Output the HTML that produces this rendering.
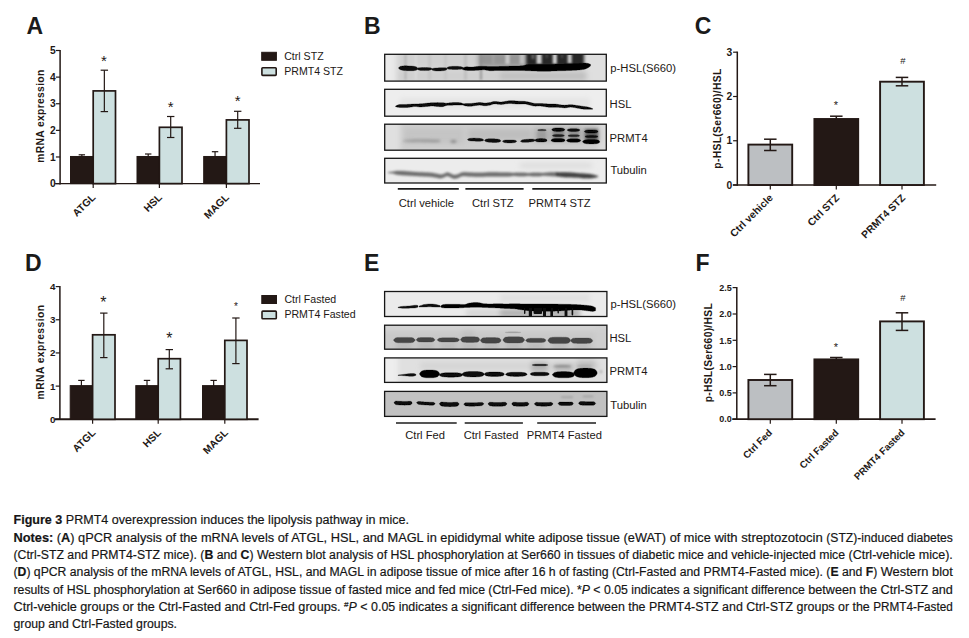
<!DOCTYPE html>
<html><head><meta charset="utf-8"><title>Figure 3</title>
<style>html,body{margin:0;padding:0;background:#fff;}body{width:969px;height:638px;overflow:hidden;}svg{display:block;font-family:'Liberation Sans',sans-serif;}</style>
</head><body>
<svg width="969" height="638" viewBox="0 0 969 638">
<defs>
<filter id="b0" x="-5%" y="-50%" width="110%" height="200%"><feGaussianBlur stdDeviation="0.45"/></filter>
<filter id="b1" x="-20%" y="-100%" width="140%" height="300%"><feGaussianBlur stdDeviation="0.8"/></filter>
<filter id="b05" x="-20%" y="-100%" width="140%" height="300%"><feGaussianBlur stdDeviation="0.6"/></filter>
<filter id="b2" x="-20%" y="-100%" width="140%" height="300%"><feGaussianBlur stdDeviation="1.4"/></filter>
<filter id="b3" x="-20%" y="-100%" width="140%" height="300%"><feGaussianBlur stdDeviation="2.5"/></filter>
</defs>
<rect width="969" height="638" fill="#fff"/>
<text x="26.50" y="34.20" font-size="23" font-weight="bold" text-anchor="start" fill="#1a1a1a">A</text>
<text x="364.00" y="34.20" font-size="23" font-weight="bold" text-anchor="start" fill="#1a1a1a">B</text>
<text x="694.80" y="34.20" font-size="23" font-weight="bold" text-anchor="start" fill="#1a1a1a">C</text>
<text x="25.00" y="271.00" font-size="23" font-weight="bold" text-anchor="start" fill="#1a1a1a">D</text>
<text x="364.00" y="271.00" font-size="23" font-weight="bold" text-anchor="start" fill="#1a1a1a">E</text>
<text x="695.50" y="271.00" font-size="23" font-weight="bold" text-anchor="start" fill="#1a1a1a">F</text>
<line x1="60.10" y1="49.90" x2="60.10" y2="184.40" stroke="#231815" stroke-width="1.5" stroke-linecap="butt"/>
<line x1="55.10" y1="183.60" x2="260.00" y2="183.60" stroke="#231815" stroke-width="1.4" stroke-linecap="butt"/>
<line x1="55.90" y1="183.60" x2="60.10" y2="183.60" stroke="#231815" stroke-width="1.2" stroke-linecap="butt"/>
<text x="55.70" y="187.30" font-size="10.3" font-weight="bold" text-anchor="end" fill="#231815">0</text>
<line x1="55.90" y1="156.98" x2="60.10" y2="156.98" stroke="#231815" stroke-width="1.2" stroke-linecap="butt"/>
<text x="55.70" y="160.68" font-size="10.3" font-weight="bold" text-anchor="end" fill="#231815">1</text>
<line x1="55.90" y1="130.36" x2="60.10" y2="130.36" stroke="#231815" stroke-width="1.2" stroke-linecap="butt"/>
<text x="55.70" y="134.06" font-size="10.3" font-weight="bold" text-anchor="end" fill="#231815">2</text>
<line x1="55.90" y1="103.74" x2="60.10" y2="103.74" stroke="#231815" stroke-width="1.2" stroke-linecap="butt"/>
<text x="55.70" y="107.44" font-size="10.3" font-weight="bold" text-anchor="end" fill="#231815">3</text>
<line x1="55.90" y1="77.12" x2="60.10" y2="77.12" stroke="#231815" stroke-width="1.2" stroke-linecap="butt"/>
<text x="55.70" y="80.82" font-size="10.3" font-weight="bold" text-anchor="end" fill="#231815">4</text>
<line x1="55.90" y1="50.50" x2="60.10" y2="50.50" stroke="#231815" stroke-width="1.2" stroke-linecap="butt"/>
<text x="55.70" y="54.20" font-size="10.3" font-weight="bold" text-anchor="end" fill="#231815">5</text>
<line x1="81.85" y1="154.80" x2="81.85" y2="157.98" stroke="#231815" stroke-width="1.2" stroke-linecap="butt"/>
<line x1="78.65" y1="154.80" x2="85.05" y2="154.80" stroke="#231815" stroke-width="1.2" stroke-linecap="butt"/>
<rect x="70.50" y="156.48" width="22.70" height="27.12" fill="#231815" stroke="#231815" stroke-width="1.0"/>
<rect x="93.20" y="90.90" width="22.30" height="92.70" fill="#cde0e0" stroke="#231815" stroke-width="1.7"/>
<line x1="104.35" y1="70.20" x2="104.35" y2="111.60" stroke="#231815" stroke-width="1.2" stroke-linecap="butt"/>
<line x1="100.65" y1="70.20" x2="108.05" y2="70.20" stroke="#231815" stroke-width="1.2" stroke-linecap="butt"/>
<line x1="100.65" y1="111.60" x2="108.05" y2="111.60" stroke="#231815" stroke-width="1.2" stroke-linecap="butt"/>
<text x="104.00" y="66.00" font-size="15" text-anchor="middle" fill="#231815">*</text>
<line x1="93.20" y1="183.60" x2="93.20" y2="188.10" stroke="#231815" stroke-width="1.2" stroke-linecap="butt"/>
<text x="96.10" y="198.00" font-size="10.3" font-weight="bold" text-anchor="end" fill="#231815" transform="rotate(-45 96.10 198.00)">ATGL</text>
<line x1="148.20" y1="154.00" x2="148.20" y2="157.98" stroke="#231815" stroke-width="1.2" stroke-linecap="butt"/>
<line x1="145.00" y1="154.00" x2="151.40" y2="154.00" stroke="#231815" stroke-width="1.2" stroke-linecap="butt"/>
<rect x="137.00" y="156.48" width="22.40" height="27.12" fill="#231815" stroke="#231815" stroke-width="1.0"/>
<rect x="159.40" y="127.30" width="22.60" height="56.30" fill="#cde0e0" stroke="#231815" stroke-width="1.7"/>
<line x1="170.70" y1="116.50" x2="170.70" y2="137.50" stroke="#231815" stroke-width="1.2" stroke-linecap="butt"/>
<line x1="167.00" y1="116.50" x2="174.40" y2="116.50" stroke="#231815" stroke-width="1.2" stroke-linecap="butt"/>
<line x1="167.00" y1="137.50" x2="174.40" y2="137.50" stroke="#231815" stroke-width="1.2" stroke-linecap="butt"/>
<text x="170.60" y="111.70" font-size="15" text-anchor="middle" fill="#231815">*</text>
<line x1="159.40" y1="183.60" x2="159.40" y2="188.10" stroke="#231815" stroke-width="1.2" stroke-linecap="butt"/>
<text x="162.60" y="198.00" font-size="10.3" font-weight="bold" text-anchor="end" fill="#231815" transform="rotate(-45 162.60 198.00)">HSL</text>
<line x1="215.05" y1="151.70" x2="215.05" y2="157.98" stroke="#231815" stroke-width="1.2" stroke-linecap="butt"/>
<line x1="211.85" y1="151.70" x2="218.25" y2="151.70" stroke="#231815" stroke-width="1.2" stroke-linecap="butt"/>
<rect x="203.70" y="156.48" width="22.70" height="27.12" fill="#231815" stroke="#231815" stroke-width="1.0"/>
<rect x="226.40" y="119.90" width="22.60" height="63.70" fill="#cde0e0" stroke="#231815" stroke-width="1.7"/>
<line x1="237.70" y1="111.30" x2="237.70" y2="128.30" stroke="#231815" stroke-width="1.2" stroke-linecap="butt"/>
<line x1="234.00" y1="111.30" x2="241.40" y2="111.30" stroke="#231815" stroke-width="1.2" stroke-linecap="butt"/>
<line x1="234.00" y1="128.30" x2="241.40" y2="128.30" stroke="#231815" stroke-width="1.2" stroke-linecap="butt"/>
<text x="237.60" y="106.20" font-size="15" text-anchor="middle" fill="#231815">*</text>
<line x1="226.40" y1="183.60" x2="226.40" y2="188.10" stroke="#231815" stroke-width="1.2" stroke-linecap="butt"/>
<text x="229.60" y="198.00" font-size="10.3" font-weight="bold" text-anchor="end" fill="#231815" transform="rotate(-45 229.60 198.00)">MAGL</text>
<text x="44.40" y="116.20" font-size="10.3" font-weight="bold" text-anchor="middle" fill="#231815" transform="rotate(-90 44.40 116.20)" textLength="93" lengthAdjust="spacing">mRNA expression</text>
<rect x="261.7" y="52.3" width="14.7" height="8.0" fill="#231815" stroke="#231815" stroke-width="1"/>
<rect x="261.9" y="67.8" width="14.299999999999999" height="7.6" fill="#cde0e0" stroke="#231815" stroke-width="1.6" rx="0.8"/>
<text x="284.20" y="59.80" font-size="10.6" text-anchor="start" fill="#231815">Ctrl STZ</text>
<text x="284.20" y="74.80" font-size="10.6" text-anchor="start" fill="#231815">PRMT4 STZ</text>
<line x1="59.90" y1="285.98" x2="59.90" y2="420.10" stroke="#231815" stroke-width="1.5" stroke-linecap="butt"/>
<line x1="54.90" y1="419.30" x2="258.60" y2="419.30" stroke="#231815" stroke-width="1.9" stroke-linecap="butt"/>
<line x1="55.70" y1="419.30" x2="59.90" y2="419.30" stroke="#231815" stroke-width="1.2" stroke-linecap="butt"/>
<text x="55.50" y="422.82" font-size="9.8" font-weight="bold" text-anchor="end" fill="#231815">0</text>
<line x1="55.70" y1="386.12" x2="59.90" y2="386.12" stroke="#231815" stroke-width="1.2" stroke-linecap="butt"/>
<text x="55.50" y="389.64" font-size="9.8" font-weight="bold" text-anchor="end" fill="#231815">1</text>
<line x1="55.70" y1="352.94" x2="59.90" y2="352.94" stroke="#231815" stroke-width="1.2" stroke-linecap="butt"/>
<text x="55.50" y="356.46" font-size="9.8" font-weight="bold" text-anchor="end" fill="#231815">2</text>
<line x1="55.70" y1="319.76" x2="59.90" y2="319.76" stroke="#231815" stroke-width="1.2" stroke-linecap="butt"/>
<text x="55.50" y="323.28" font-size="9.8" font-weight="bold" text-anchor="end" fill="#231815">3</text>
<line x1="55.70" y1="286.58" x2="59.90" y2="286.58" stroke="#231815" stroke-width="1.2" stroke-linecap="butt"/>
<text x="55.50" y="290.10" font-size="9.8" font-weight="bold" text-anchor="end" fill="#231815">4</text>
<line x1="81.40" y1="380.40" x2="81.40" y2="387.12" stroke="#231815" stroke-width="1.2" stroke-linecap="butt"/>
<line x1="78.20" y1="380.40" x2="84.60" y2="380.40" stroke="#231815" stroke-width="1.2" stroke-linecap="butt"/>
<rect x="70.20" y="385.62" width="22.40" height="33.68" fill="#231815" stroke="#231815" stroke-width="1.0"/>
<rect x="92.60" y="334.80" width="22.40" height="84.50" fill="#cde0e0" stroke="#231815" stroke-width="1.7"/>
<line x1="103.80" y1="313.10" x2="103.80" y2="357.60" stroke="#231815" stroke-width="1.2" stroke-linecap="butt"/>
<line x1="100.10" y1="313.10" x2="107.50" y2="313.10" stroke="#231815" stroke-width="1.2" stroke-linecap="butt"/>
<line x1="100.10" y1="357.60" x2="107.50" y2="357.60" stroke="#231815" stroke-width="1.2" stroke-linecap="butt"/>
<text x="103.40" y="308.30" font-size="16" text-anchor="middle" fill="#231815">*</text>
<line x1="92.60" y1="419.30" x2="92.60" y2="423.80" stroke="#231815" stroke-width="1.2" stroke-linecap="butt"/>
<text x="96.10" y="433.40" font-size="10.3" font-weight="bold" text-anchor="end" fill="#231815" transform="rotate(-45 96.10 433.40)">ATGL</text>
<line x1="147.00" y1="380.40" x2="147.00" y2="387.12" stroke="#231815" stroke-width="1.2" stroke-linecap="butt"/>
<line x1="143.80" y1="380.40" x2="150.20" y2="380.40" stroke="#231815" stroke-width="1.2" stroke-linecap="butt"/>
<rect x="135.80" y="385.62" width="22.40" height="33.68" fill="#231815" stroke="#231815" stroke-width="1.0"/>
<rect x="158.20" y="358.70" width="22.20" height="60.60" fill="#cde0e0" stroke="#231815" stroke-width="1.7"/>
<line x1="169.30" y1="349.60" x2="169.30" y2="368.80" stroke="#231815" stroke-width="1.2" stroke-linecap="butt"/>
<line x1="165.60" y1="349.60" x2="173.00" y2="349.60" stroke="#231815" stroke-width="1.2" stroke-linecap="butt"/>
<line x1="165.60" y1="368.80" x2="173.00" y2="368.80" stroke="#231815" stroke-width="1.2" stroke-linecap="butt"/>
<text x="169.40" y="343.50" font-size="16" text-anchor="middle" fill="#231815">*</text>
<line x1="158.20" y1="419.30" x2="158.20" y2="423.80" stroke="#231815" stroke-width="1.2" stroke-linecap="butt"/>
<text x="161.60" y="433.40" font-size="10.3" font-weight="bold" text-anchor="end" fill="#231815" transform="rotate(-45 161.60 433.40)">HSL</text>
<line x1="213.65" y1="380.40" x2="213.65" y2="387.12" stroke="#231815" stroke-width="1.2" stroke-linecap="butt"/>
<line x1="210.45" y1="380.40" x2="216.85" y2="380.40" stroke="#231815" stroke-width="1.2" stroke-linecap="butt"/>
<rect x="202.50" y="385.62" width="22.30" height="33.68" fill="#231815" stroke="#231815" stroke-width="1.0"/>
<rect x="224.80" y="340.40" width="22.20" height="78.90" fill="#cde0e0" stroke="#231815" stroke-width="1.7"/>
<line x1="235.90" y1="318.00" x2="235.90" y2="363.60" stroke="#231815" stroke-width="1.2" stroke-linecap="butt"/>
<line x1="232.20" y1="318.00" x2="239.60" y2="318.00" stroke="#231815" stroke-width="1.2" stroke-linecap="butt"/>
<line x1="232.20" y1="363.60" x2="239.60" y2="363.60" stroke="#231815" stroke-width="1.2" stroke-linecap="butt"/>
<text x="236.00" y="309.50" font-size="10" text-anchor="middle" fill="#231815">*</text>
<line x1="224.80" y1="419.30" x2="224.80" y2="423.80" stroke="#231815" stroke-width="1.2" stroke-linecap="butt"/>
<text x="228.60" y="433.40" font-size="10.3" font-weight="bold" text-anchor="end" fill="#231815" transform="rotate(-45 228.60 433.40)">MAGL</text>
<text x="44.20" y="352.20" font-size="10.3" font-weight="bold" text-anchor="middle" fill="#231815" transform="rotate(-90 44.20 352.20)" textLength="94.5" lengthAdjust="spacing">mRNA expression</text>
<rect x="261.8" y="295.5" width="14.7" height="8.0" fill="#231815" stroke="#231815" stroke-width="1"/>
<rect x="262.0" y="311.09999999999997" width="14.299999999999999" height="7.6" fill="#cde0e0" stroke="#231815" stroke-width="1.6" rx="0.8"/>
<text x="284.40" y="302.80" font-size="10.6" text-anchor="start" fill="#231815">Ctrl Fasted</text>
<text x="284.40" y="318.00" font-size="10.6" text-anchor="start" fill="#231815">PRMT4 Fasted</text>
<line x1="737.30" y1="51.60" x2="737.30" y2="185.80" stroke="#231815" stroke-width="1.5" stroke-linecap="butt"/>
<line x1="732.80" y1="185.00" x2="936.20" y2="185.00" stroke="#231815" stroke-width="1.7" stroke-linecap="butt"/>
<line x1="733.10" y1="185.00" x2="737.30" y2="185.00" stroke="#231815" stroke-width="1.2" stroke-linecap="butt"/>
<text x="732.30" y="188.70" font-size="10.3" font-weight="bold" text-anchor="end" fill="#231815">0</text>
<line x1="733.10" y1="140.75" x2="737.30" y2="140.75" stroke="#231815" stroke-width="1.2" stroke-linecap="butt"/>
<text x="732.30" y="144.45" font-size="10.3" font-weight="bold" text-anchor="end" fill="#231815">1</text>
<line x1="733.10" y1="96.50" x2="737.30" y2="96.50" stroke="#231815" stroke-width="1.2" stroke-linecap="butt"/>
<text x="732.30" y="100.20" font-size="10.3" font-weight="bold" text-anchor="end" fill="#231815">2</text>
<line x1="733.10" y1="52.20" x2="737.30" y2="52.20" stroke="#231815" stroke-width="1.2" stroke-linecap="butt"/>
<text x="732.30" y="55.90" font-size="10.3" font-weight="bold" text-anchor="end" fill="#231815">3</text>
<rect x="748.40" y="144.60" width="43.80" height="40.40" fill="#bcbfc2" stroke="#231815" stroke-width="1.9"/>
<line x1="770.30" y1="139.20" x2="770.30" y2="150.50" stroke="#231815" stroke-width="1.5" stroke-linecap="butt"/>
<line x1="764.05" y1="139.20" x2="776.55" y2="139.20" stroke="#231815" stroke-width="1.5" stroke-linecap="butt"/>
<line x1="764.05" y1="150.50" x2="776.55" y2="150.50" stroke="#231815" stroke-width="1.5" stroke-linecap="butt"/>
<line x1="770.30" y1="185.00" x2="770.30" y2="189.50" stroke="#231815" stroke-width="1.2" stroke-linecap="butt"/>
<text x="773.50" y="198.50" font-size="10.3" font-weight="bold" text-anchor="end" fill="#231815" transform="rotate(-45 773.50 198.50)">Ctrl vehicle</text>
<line x1="836.30" y1="116.20" x2="836.30" y2="120.00" stroke="#231815" stroke-width="1.5" stroke-linecap="butt"/>
<line x1="830.05" y1="116.20" x2="842.55" y2="116.20" stroke="#231815" stroke-width="1.5" stroke-linecap="butt"/>
<rect x="814.40" y="119.00" width="43.80" height="66.00" fill="#231815" stroke="#231815" stroke-width="1.9"/>
<line x1="836.30" y1="185.00" x2="836.30" y2="189.50" stroke="#231815" stroke-width="1.2" stroke-linecap="butt"/>
<text x="840.00" y="198.50" font-size="10.3" font-weight="bold" text-anchor="end" fill="#231815" transform="rotate(-45 840.00 198.50)">Ctrl STZ</text>
<rect x="880.10" y="81.70" width="43.80" height="103.30" fill="#cde0e0" stroke="#231815" stroke-width="1.9"/>
<line x1="902.00" y1="77.40" x2="902.00" y2="85.80" stroke="#231815" stroke-width="1.5" stroke-linecap="butt"/>
<line x1="895.75" y1="77.40" x2="908.25" y2="77.40" stroke="#231815" stroke-width="1.5" stroke-linecap="butt"/>
<line x1="895.75" y1="85.80" x2="908.25" y2="85.80" stroke="#231815" stroke-width="1.5" stroke-linecap="butt"/>
<line x1="902.00" y1="185.00" x2="902.00" y2="189.50" stroke="#231815" stroke-width="1.2" stroke-linecap="butt"/>
<text x="906.00" y="198.50" font-size="10.3" font-weight="bold" text-anchor="end" fill="#231815" transform="rotate(-45 906.00 198.50)">PRMT4 STZ</text>
<text x="836.00" y="109.30" font-size="11" text-anchor="middle" fill="#231815">*</text>
<text x="903.00" y="64.40" font-size="9.5" text-anchor="middle" fill="#231815">#</text>
<text x="721.30" y="118.70" font-size="10.3" font-weight="bold" text-anchor="middle" fill="#231815" transform="rotate(-90 721.30 118.70)" textLength="100" lengthAdjust="spacing">p-HSL(Ser660)/HSL</text>
<line x1="736.80" y1="287.00" x2="736.80" y2="420.00" stroke="#231815" stroke-width="1.5" stroke-linecap="butt"/>
<line x1="732.30" y1="419.20" x2="935.60" y2="419.20" stroke="#231815" stroke-width="1.7" stroke-linecap="butt"/>
<line x1="732.60" y1="419.20" x2="736.80" y2="419.20" stroke="#231815" stroke-width="1.2" stroke-linecap="butt"/>
<text x="731.80" y="422.43" font-size="9.0" font-weight="bold" text-anchor="end" fill="#231815">0.0</text>
<line x1="732.60" y1="392.90" x2="736.80" y2="392.90" stroke="#231815" stroke-width="1.2" stroke-linecap="butt"/>
<text x="731.80" y="396.13" font-size="9.0" font-weight="bold" text-anchor="end" fill="#231815">0.5</text>
<line x1="732.60" y1="366.60" x2="736.80" y2="366.60" stroke="#231815" stroke-width="1.2" stroke-linecap="butt"/>
<text x="731.80" y="369.83" font-size="9.0" font-weight="bold" text-anchor="end" fill="#231815">1.0</text>
<line x1="732.60" y1="340.30" x2="736.80" y2="340.30" stroke="#231815" stroke-width="1.2" stroke-linecap="butt"/>
<text x="731.80" y="343.53" font-size="9.0" font-weight="bold" text-anchor="end" fill="#231815">1.5</text>
<line x1="732.60" y1="314.00" x2="736.80" y2="314.00" stroke="#231815" stroke-width="1.2" stroke-linecap="butt"/>
<text x="731.80" y="317.23" font-size="9.0" font-weight="bold" text-anchor="end" fill="#231815">2.0</text>
<line x1="732.60" y1="287.60" x2="736.80" y2="287.60" stroke="#231815" stroke-width="1.2" stroke-linecap="butt"/>
<text x="731.80" y="290.83" font-size="9.0" font-weight="bold" text-anchor="end" fill="#231815">2.5</text>
<rect x="748.40" y="380.00" width="43.80" height="39.20" fill="#bcbfc2" stroke="#231815" stroke-width="1.9"/>
<line x1="770.30" y1="374.40" x2="770.30" y2="385.70" stroke="#231815" stroke-width="1.5" stroke-linecap="butt"/>
<line x1="764.05" y1="374.40" x2="776.55" y2="374.40" stroke="#231815" stroke-width="1.5" stroke-linecap="butt"/>
<line x1="764.05" y1="385.70" x2="776.55" y2="385.70" stroke="#231815" stroke-width="1.5" stroke-linecap="butt"/>
<line x1="770.30" y1="419.20" x2="770.30" y2="423.70" stroke="#231815" stroke-width="1.2" stroke-linecap="butt"/>
<text x="772.80" y="433.40" font-size="9.7" font-weight="bold" text-anchor="end" fill="#231815" transform="rotate(-45 772.80 433.40)">Ctrl Fed</text>
<line x1="836.30" y1="357.50" x2="836.30" y2="360.40" stroke="#231815" stroke-width="1.5" stroke-linecap="butt"/>
<line x1="830.05" y1="357.50" x2="842.55" y2="357.50" stroke="#231815" stroke-width="1.5" stroke-linecap="butt"/>
<rect x="814.40" y="359.40" width="43.80" height="59.80" fill="#231815" stroke="#231815" stroke-width="1.9"/>
<line x1="836.30" y1="419.20" x2="836.30" y2="423.70" stroke="#231815" stroke-width="1.2" stroke-linecap="butt"/>
<text x="839.30" y="433.40" font-size="9.7" font-weight="bold" text-anchor="end" fill="#231815" transform="rotate(-45 839.30 433.40)">Ctrl Fasted</text>
<rect x="880.10" y="321.40" width="43.80" height="97.80" fill="#cde0e0" stroke="#231815" stroke-width="1.9"/>
<line x1="902.00" y1="312.80" x2="902.00" y2="330.40" stroke="#231815" stroke-width="1.5" stroke-linecap="butt"/>
<line x1="895.75" y1="312.80" x2="908.25" y2="312.80" stroke="#231815" stroke-width="1.5" stroke-linecap="butt"/>
<line x1="895.75" y1="330.40" x2="908.25" y2="330.40" stroke="#231815" stroke-width="1.5" stroke-linecap="butt"/>
<line x1="902.00" y1="419.20" x2="902.00" y2="423.70" stroke="#231815" stroke-width="1.2" stroke-linecap="butt"/>
<text x="905.30" y="433.40" font-size="9.7" font-weight="bold" text-anchor="end" fill="#231815" transform="rotate(-45 905.30 433.40)">PRMT4 Fasted</text>
<text x="836.00" y="350.70" font-size="11" text-anchor="middle" fill="#231815">*</text>
<text x="903.00" y="300.80" font-size="9.5" text-anchor="middle" fill="#231815">#</text>
<text x="712.50" y="352.80" font-size="10.3" font-weight="bold" text-anchor="middle" fill="#231815" transform="rotate(-90 712.50 352.80)" textLength="99" lengthAdjust="spacing">p-HSL(Ser660)/HSL</text>
<clipPath id="cp1"><rect x="384.7" y="54.3" width="221.59999999999997" height="26.799999999999997"/></clipPath>
<rect x="384.7" y="54.3" width="221.59999999999997" height="26.799999999999997" fill="#d6d6d6"/>
<g clip-path="url(#cp1)">
<g filter="url(#b3)">
<rect x="380.0" y="50.0" width="16.0" height="36.0" fill="#ececec" opacity="0.9"/>
<rect x="586.0" y="50.0" width="24.0" height="36.0" fill="#e0e0e0" opacity="0.9"/>
<rect x="400.0" y="52.0" width="80.0" height="14.0" fill="#cfcfcf" opacity="0.7"/>
<rect x="478.0" y="52.0" width="48.0" height="15.0" fill="#8e8e8e" opacity="0.9"/>
<rect x="398.0" y="72.0" width="190.0" height="8.0" fill="#cccccc" opacity="0.7"/>
<rect x="500.0" y="72.0" width="86.0" height="8.0" fill="#b8b8b8" opacity="0.7"/>
</g>
<g filter="url(#b2)">
<rect x="526.0" y="52.0" width="58.0" height="14.0" fill="#1c1c1c" opacity="0.95"/>
</g>
<g filter="url(#b1)">
<rect x="505.4" y="53.0" width="4.2" height="11.0" fill="#cfcfcf" opacity="0.9"/>
<rect x="519.7" y="53.0" width="4.6" height="11.0" fill="#c4c4c4" opacity="0.9"/>
<rect x="492.0" y="53.0" width="2.5" height="11.0" fill="#aaaaaa" opacity="0.6"/>
<rect x="536.5" y="53.0" width="5.2" height="11.0" fill="#cdcdcd" opacity="1.0"/>
<rect x="552.7" y="53.0" width="4.2" height="11.0" fill="#d2d2d2" opacity="1.0"/>
<rect x="567.6" y="53.0" width="4.2" height="10.5" fill="#c8c8c8" opacity="1.0"/>
<rect x="531.5" y="53.0" width="2.8" height="6.0" fill="#777777" opacity="0.8"/>
<rect x="545.5" y="53.0" width="2.5" height="5.0" fill="#555555" opacity="0.7"/>
<rect x="561.0" y="53.0" width="2.2" height="5.0" fill="#555555" opacity="0.7"/>
<rect x="404.5" y="54.0" width="2.0" height="26.0" fill="#a8a8a8" opacity="0.7"/>
<rect x="414.5" y="54.0" width="2.5" height="26.0" fill="#e0e0e0" opacity="0.6"/>
<rect x="480.0" y="54.0" width="2.0" height="26.0" fill="#8a8a8a" opacity="0.8"/>
<rect x="464.0" y="54.0" width="3.0" height="26.0" fill="#b4b4b4" opacity="0.6"/>
<rect x="428.0" y="54.0" width="3.0" height="26.0" fill="#c2c2c2" opacity="0.7"/>
<rect x="444.0" y="54.0" width="3.0" height="26.0" fill="#c4c4c4" opacity="0.7"/>
</g>
<g filter="url(#b0)">
<path d="M398.6,67.71 L399.1,67.31 L399.6,66.90 L400.1,66.55 L400.6,66.34 L401.1,66.21 L401.6,66.13 L402.1,66.04 L402.6,65.98 L403.1,65.93 L403.6,65.89 L404.1,65.87 L404.6,65.85 L405.1,65.84 L405.6,65.84 L406.1,65.85 L406.6,65.85 L407.1,65.86 L407.6,65.88 L408.1,65.89 L408.6,65.91 L409.1,65.92 L409.6,65.94 L410.1,65.96 L410.6,65.99 L411.1,66.01 L411.6,66.05 L412.1,66.09 L412.6,66.14 L413.1,66.20 L413.6,66.27 L414.1,66.35 L414.6,66.45 L415.1,66.56 L415.6,66.68 L416.1,66.85 L416.6,67.13 L417.1,67.52 L417.6,67.97 L417.6,69.21 L417.1,69.62 L416.6,69.99 L416.1,70.23 L415.6,70.37 L415.1,70.46 L414.6,70.54 L414.1,70.61 L413.6,70.66 L413.1,70.70 L412.6,70.73 L412.1,70.74 L411.6,70.75 L411.1,70.76 L410.6,70.75 L410.1,70.75 L409.6,70.74 L409.1,70.72 L408.6,70.71 L408.1,70.69 L407.6,70.68 L407.1,70.66 L406.6,70.64 L406.1,70.62 L405.6,70.59 L405.1,70.56 L404.6,70.52 L404.1,70.47 L403.6,70.41 L403.1,70.35 L402.6,70.27 L402.1,70.17 L401.6,70.06 L401.1,69.94 L400.6,69.79 L400.1,69.54 L399.6,69.16 L399.1,68.72 L398.6,68.29Z" fill="#080808" opacity="1.0" stroke="#080808" stroke-width="0.3" stroke-linejoin="round"/>
<path d="M417.0,68.62 L417.5,68.31 L418.0,68.03 L418.5,67.84 L419.0,67.76 L419.5,67.71 L420.0,67.66 L420.5,67.63 L421.0,67.61 L421.5,67.60 L422.0,67.59 L422.5,67.59 L423.0,67.59 L423.5,67.59 L424.0,67.60 L424.5,67.60 L425.0,67.60 L425.5,67.59 L426.0,67.59 L426.5,67.59 L427.0,67.59 L427.5,67.60 L428.0,67.61 L428.5,67.63 L429.0,67.66 L429.5,67.71 L430.0,67.76 L430.5,67.84 L431.0,68.03 L431.5,68.31 L432.0,68.62 L432.0,68.98 L431.5,69.36 L431.0,69.72 L430.5,69.97 L430.0,70.12 L429.5,70.22 L429.0,70.32 L428.5,70.39 L428.0,70.46 L427.5,70.50 L427.0,70.54 L426.5,70.56 L426.0,70.58 L425.5,70.59 L425.0,70.60 L424.5,70.60 L424.0,70.60 L423.5,70.59 L423.0,70.58 L422.5,70.56 L422.0,70.54 L421.5,70.50 L421.0,70.46 L420.5,70.39 L420.0,70.32 L419.5,70.22 L419.0,70.12 L418.5,69.97 L418.0,69.72 L417.5,69.36 L417.0,68.98Z" fill="#0c0c0c" opacity="1.0" stroke="#0c0c0c" stroke-width="0.3" stroke-linejoin="round"/>
<path d="M431.6,69.16 L432.1,68.85 L432.6,68.54 L433.1,68.33 L433.6,68.22 L434.1,68.15 L434.6,68.08 L435.1,68.04 L435.6,68.00 L436.1,67.96 L436.6,67.94 L437.1,67.92 L437.6,67.90 L438.1,67.89 L438.6,67.87 L439.1,67.86 L439.6,67.85 L440.1,67.83 L440.6,67.81 L441.1,67.79 L441.6,67.78 L442.1,67.76 L442.6,67.75 L443.1,67.75 L443.6,67.75 L444.1,67.76 L444.6,67.79 L445.1,67.82 L445.6,67.87 L446.1,67.98 L446.6,68.21 L447.1,68.50 L447.1,69.26 L446.6,69.65 L446.1,69.98 L445.6,70.19 L445.1,70.32 L444.6,70.44 L444.1,70.54 L443.6,70.63 L443.1,70.70 L442.6,70.76 L442.1,70.81 L441.6,70.85 L441.1,70.88 L440.6,70.91 L440.1,70.93 L439.6,70.95 L439.1,70.96 L438.6,70.97 L438.1,70.98 L437.6,70.98 L437.1,70.98 L436.6,70.96 L436.1,70.94 L435.6,70.90 L435.1,70.86 L434.6,70.79 L434.1,70.71 L433.6,70.62 L433.1,70.48 L432.6,70.23 L432.1,69.89 L431.6,69.54Z" fill="#0c0c0c" opacity="1.0" stroke="#0c0c0c" stroke-width="0.3" stroke-linejoin="round"/>
<path d="M446.8,67.85 L447.3,67.51 L447.8,67.17 L448.3,66.92 L448.8,66.77 L449.3,66.67 L449.8,66.58 L450.3,66.51 L450.8,66.45 L451.3,66.40 L451.8,66.37 L452.3,66.34 L452.8,66.32 L453.3,66.30 L453.8,66.29 L454.3,66.29 L454.8,66.28 L455.3,66.28 L455.8,66.29 L456.3,66.29 L456.8,66.30 L457.3,66.31 L457.8,66.33 L458.3,66.36 L458.8,66.39 L459.3,66.44 L459.8,66.50 L460.3,66.56 L460.8,66.65 L461.3,66.75 L461.8,66.88 L462.3,67.11 L462.8,67.44 L463.3,67.78 L463.3,68.28 L462.8,68.58 L462.3,68.86 L461.8,69.05 L461.3,69.15 L460.8,69.20 L460.3,69.26 L459.8,69.30 L459.3,69.33 L458.8,69.35 L458.3,69.37 L457.8,69.38 L457.3,69.38 L456.8,69.39 L456.3,69.39 L455.8,69.39 L455.3,69.38 L454.8,69.38 L454.3,69.39 L453.8,69.39 L453.3,69.39 L452.8,69.38 L452.3,69.38 L451.8,69.37 L451.3,69.35 L450.8,69.33 L450.3,69.29 L449.8,69.25 L449.3,69.19 L448.8,69.13 L448.3,69.02 L447.8,68.81 L447.3,68.52 L446.8,68.22Z" fill="#0c0c0c" opacity="1.0" stroke="#0c0c0c" stroke-width="0.3" stroke-linejoin="round"/>
<path d="M462.5,68.05 L463.5,67.67 L464.5,67.28 L465.5,66.98 L466.5,66.86 L467.5,66.86 L468.5,66.92 L469.5,67.00 L470.5,67.08 L471.5,67.11 L472.5,67.07 L473.5,66.98 L474.5,66.85 L475.5,66.70 L476.5,66.56 L477.5,66.44 L478.5,66.36 L479.5,66.30 L480.5,66.26 L481.5,66.22 L482.5,66.20 L483.5,66.20 L484.5,66.21 L485.5,66.25 L486.5,66.31 L487.5,66.38 L488.5,66.44 L489.5,66.49 L490.5,66.51 L491.5,66.51 L492.5,66.50 L493.5,66.49 L494.5,66.47 L495.5,66.45 L496.5,66.43 L497.5,66.41 L498.5,66.39 L499.5,66.37 L500.5,66.34 L501.5,66.32 L502.5,66.29 L503.5,66.27 L504.5,66.24 L505.5,66.21 L506.5,66.19 L507.5,66.16 L508.5,66.14 L509.5,66.11 L510.5,66.08 L511.5,66.06 L512.5,66.03 L513.5,66.01 L514.5,65.99 L515.5,65.98 L516.5,65.98 L517.5,65.98 L518.5,65.96 L519.5,65.93 L520.5,65.87 L521.5,65.78 L522.5,65.65 L523.5,65.49 L524.5,65.27 L525.5,64.92 L526.5,64.59 L527.5,64.44 L528.5,64.36 L529.5,64.29 L530.5,64.25 L531.5,64.23 L532.5,64.22 L533.5,64.21 L534.5,64.20 L535.5,64.19 L536.5,64.20 L537.5,64.21 L538.5,64.22 L539.5,64.24 L540.5,64.26 L541.5,64.28 L542.5,64.29 L543.5,64.30 L544.5,64.30 L545.5,64.30 L546.5,64.29 L547.5,64.28 L548.5,64.26 L549.5,64.24 L550.5,64.22 L551.5,64.20 L552.5,64.18 L553.5,64.16 L554.5,64.13 L555.5,64.11 L556.5,64.09 L557.5,64.06 L558.5,64.04 L559.5,64.01 L560.5,63.99 L561.5,63.96 L562.5,63.93 L563.5,63.90 L564.5,63.87 L565.5,63.84 L566.5,63.81 L567.5,63.79 L568.5,63.76 L569.5,63.73 L570.5,63.71 L571.5,63.68 L572.5,63.65 L573.5,63.62 L574.5,63.59 L575.5,63.56 L576.5,63.52 L577.5,63.48 L578.5,63.42 L579.5,63.35 L580.5,63.27 L581.5,63.20 L582.5,63.15 L583.5,63.11 L584.5,63.10 L585.5,63.12 L586.5,63.18 L587.5,63.31 L588.5,63.53 L589.5,63.89 L590.5,64.31 L590.5,65.90 L589.5,66.73 L588.5,67.49 L587.5,68.06 L586.5,68.52 L585.5,68.89 L584.5,69.19 L583.5,69.40 L582.5,69.57 L581.5,69.71 L580.5,69.82 L579.5,69.91 L578.5,69.99 L577.5,70.06 L576.5,70.14 L575.5,70.21 L574.5,70.27 L573.5,70.32 L572.5,70.37 L571.5,70.42 L570.5,70.46 L569.5,70.50 L568.5,70.54 L567.5,70.58 L566.5,70.62 L565.5,70.65 L564.5,70.68 L563.5,70.71 L562.5,70.73 L561.5,70.76 L560.5,70.78 L559.5,70.81 L558.5,70.83 L557.5,70.86 L556.5,70.88 L555.5,70.92 L554.5,70.96 L553.5,71.00 L552.5,71.04 L551.5,71.09 L550.5,71.14 L549.5,71.18 L548.5,71.22 L547.5,71.25 L546.5,71.28 L545.5,71.30 L544.5,71.30 L543.5,71.30 L542.5,71.28 L541.5,71.26 L540.5,71.23 L539.5,71.20 L538.5,71.17 L537.5,71.13 L536.5,71.09 L535.5,71.05 L534.5,71.02 L533.5,70.98 L532.5,70.94 L531.5,70.90 L530.5,70.86 L529.5,70.81 L528.5,70.76 L527.5,70.72 L526.5,70.68 L525.5,70.65 L524.5,70.61 L523.5,70.59 L522.5,70.56 L521.5,70.53 L520.5,70.51 L519.5,70.49 L518.5,70.47 L517.5,70.44 L516.5,70.42 L515.5,70.40 L514.5,70.40 L513.5,70.41 L512.5,70.43 L511.5,70.45 L510.5,70.49 L509.5,70.52 L508.5,70.56 L507.5,70.58 L506.5,70.60 L505.5,70.60 L504.5,70.58 L503.5,70.55 L502.5,70.51 L501.5,70.47 L500.5,70.44 L499.5,70.41 L498.5,70.40 L497.5,70.41 L496.5,70.44 L495.5,70.50 L494.5,70.57 L493.5,70.63 L492.5,70.68 L491.5,70.72 L490.5,70.72 L489.5,70.67 L488.5,70.53 L487.5,70.35 L486.5,70.15 L485.5,69.96 L484.5,69.83 L483.5,69.79 L482.5,69.81 L481.5,69.88 L480.5,69.97 L479.5,70.08 L478.5,70.17 L477.5,70.23 L476.5,70.29 L475.5,70.36 L474.5,70.42 L473.5,70.46 L472.5,70.49 L471.5,70.50 L470.5,70.50 L469.5,70.49 L468.5,70.47 L467.5,70.42 L466.5,70.35 L465.5,70.23 L464.5,70.03 L463.5,69.79 L462.5,69.55Z" fill="#060606" opacity="1.0" stroke="#060606" stroke-width="0.3" stroke-linejoin="round"/>
</g>
</g>
<rect x="384.7" y="54.3" width="221.59999999999997" height="26.799999999999997" fill="none" stroke="#161616" stroke-width="1.3"/>
<clipPath id="cp2"><rect x="384.7" y="89.3" width="221.59999999999997" height="26.900000000000006"/></clipPath>
<rect x="384.7" y="89.3" width="221.59999999999997" height="26.900000000000006" fill="#eeeeee"/>
<g clip-path="url(#cp2)">
<g filter="url(#b3)">
<rect x="400.0" y="98.0" width="190.0" height="10.0" fill="#dedede" opacity="0.6"/>
</g>
<g filter="url(#b0)">
<path d="M395.6,106.06 L396.6,105.58 L397.6,105.09 L398.6,104.71 L399.6,104.54 L400.6,104.46 L401.6,104.44 L402.6,104.45 L403.6,104.47 L404.6,104.46 L405.6,104.43 L406.6,104.38 L407.6,104.33 L408.6,104.27 L409.6,104.22 L410.6,104.16 L411.6,104.10 L412.6,104.04 L413.6,103.98 L414.6,103.92 L415.6,103.90 L416.6,103.89 L417.6,103.90 L418.6,103.90 L419.6,103.87 L420.6,103.81 L421.6,103.73 L422.6,103.63 L423.6,103.52 L424.6,103.41 L425.6,103.30 L426.6,103.21 L427.6,103.12 L428.6,103.02 L429.6,102.94 L430.6,102.86 L431.6,102.79 L432.6,102.74 L433.6,102.69 L434.6,102.66 L435.6,102.64 L436.6,102.63 L437.6,102.62 L438.6,102.63 L439.6,102.65 L440.6,102.68 L441.6,102.73 L442.6,102.78 L443.6,102.86 L444.6,103.00 L445.6,103.13 L446.6,103.18 L447.6,103.12 L448.6,102.97 L449.6,102.83 L450.6,102.75 L451.6,102.68 L452.6,102.62 L453.6,102.56 L454.6,102.53 L455.6,102.51 L456.6,102.52 L457.6,102.55 L458.6,102.61 L459.6,102.70 L460.6,102.82 L461.6,103.07 L462.6,103.52 L463.6,103.68 L464.6,103.67 L465.6,103.61 L466.6,103.58 L467.6,103.56 L468.6,103.53 L469.6,103.50 L470.6,103.45 L471.6,103.38 L472.6,103.28 L473.6,103.18 L474.6,103.06 L475.6,102.95 L476.6,102.84 L477.6,102.71 L478.6,102.58 L479.6,102.51 L480.6,102.54 L481.6,102.64 L482.6,102.79 L483.6,102.93 L484.6,103.02 L485.6,103.01 L486.6,102.96 L487.6,102.86 L488.6,102.73 L489.6,102.58 L490.6,102.38 L491.6,102.07 L492.6,101.76 L493.6,101.53 L494.6,101.48 L495.6,101.53 L496.6,101.62 L497.6,101.74 L498.6,101.87 L499.6,101.96 L500.6,102.00 L501.6,101.96 L502.6,101.86 L503.6,101.70 L504.6,101.52 L505.6,101.34 L506.6,101.17 L507.6,101.02 L508.6,100.86 L509.6,100.73 L510.6,100.65 L511.6,100.65 L512.6,100.69 L513.6,100.76 L514.6,100.85 L515.6,100.95 L516.6,101.04 L517.6,101.11 L518.6,101.17 L519.6,101.20 L520.6,101.21 L521.6,101.23 L522.6,101.25 L523.6,101.30 L524.6,101.37 L525.6,101.49 L526.6,101.66 L527.6,101.87 L528.6,102.11 L529.6,102.34 L530.6,102.56 L531.6,102.83 L532.6,103.08 L533.6,103.27 L534.6,103.38 L535.6,103.43 L536.6,103.46 L537.6,103.47 L538.6,103.47 L539.6,103.47 L540.6,103.50 L541.6,103.54 L542.6,103.59 L543.6,103.65 L544.6,103.71 L545.6,103.78 L546.6,103.84 L547.6,103.90 L548.6,103.95 L549.6,103.99 L550.6,104.01 L551.6,104.02 L552.6,104.03 L553.6,104.04 L554.6,104.07 L555.6,104.12 L556.6,104.21 L557.6,104.36 L558.6,104.53 L559.6,104.71 L560.6,104.86 L561.6,104.97 L562.6,105.06 L563.6,105.11 L564.6,105.13 L565.6,105.10 L566.6,105.02 L567.6,104.91 L568.6,104.81 L569.6,104.72 L570.6,104.69 L571.6,104.73 L572.6,104.82 L573.6,104.96 L574.6,105.12 L575.6,105.29 L576.6,105.45 L577.6,105.59 L578.6,105.72 L579.6,105.86 L580.6,105.99 L581.6,106.13 L582.6,106.27 L583.6,106.41 L584.6,106.53 L585.6,106.66 L586.6,106.81 L587.6,106.99 L588.6,107.23 L589.6,107.53 L590.6,107.85 L591.6,108.19 L592.6,108.53 L592.6,109.34 L591.6,109.34 L590.6,109.34 L589.6,109.34 L588.6,109.33 L587.6,109.31 L586.6,109.28 L585.6,109.25 L584.6,109.21 L583.6,109.14 L582.6,109.03 L581.6,108.89 L580.6,108.73 L579.6,108.55 L578.6,108.37 L577.6,108.19 L576.6,108.02 L575.6,107.82 L574.6,107.61 L573.6,107.41 L572.6,107.24 L571.6,107.13 L570.6,107.11 L569.6,107.19 L568.6,107.34 L567.6,107.52 L566.6,107.70 L565.6,107.83 L564.6,107.88 L563.6,107.81 L562.6,107.68 L561.6,107.55 L560.6,107.46 L559.6,107.40 L558.6,107.34 L557.6,107.30 L556.6,107.26 L555.6,107.24 L554.6,107.24 L553.6,107.26 L552.6,107.29 L551.6,107.30 L550.6,107.30 L549.6,107.27 L548.6,107.20 L547.6,107.08 L546.6,106.94 L545.6,106.77 L544.6,106.59 L543.6,106.42 L542.6,106.27 L541.6,106.14 L540.6,106.06 L539.6,106.04 L538.6,106.05 L537.6,106.08 L536.6,106.12 L535.6,106.14 L534.6,106.11 L533.6,106.03 L532.6,105.85 L531.6,105.59 L530.6,105.32 L529.6,105.08 L528.6,104.81 L527.6,104.52 L526.6,104.26 L525.6,104.07 L524.6,103.96 L523.6,103.92 L522.6,103.93 L521.6,103.97 L520.6,104.01 L519.6,104.06 L518.6,104.07 L517.6,104.05 L516.6,103.99 L515.6,103.91 L514.6,103.82 L513.6,103.73 L512.6,103.65 L511.6,103.59 L510.6,103.55 L509.6,103.55 L508.6,103.58 L507.6,103.64 L506.6,103.73 L505.6,103.85 L504.6,104.00 L503.6,104.16 L502.6,104.29 L501.6,104.38 L500.6,104.40 L499.6,104.35 L498.6,104.25 L497.6,104.13 L496.6,104.01 L495.6,103.92 L494.6,103.88 L493.6,103.95 L492.6,104.21 L491.6,104.58 L490.6,104.93 L489.6,105.17 L488.6,105.37 L487.6,105.55 L486.6,105.68 L485.6,105.76 L484.6,105.76 L483.6,105.65 L482.6,105.47 L481.6,105.28 L480.6,105.13 L479.6,105.09 L478.6,105.15 L477.6,105.27 L476.6,105.41 L475.6,105.54 L474.6,105.69 L473.6,105.86 L472.6,106.01 L471.6,106.13 L470.6,106.19 L469.6,106.22 L468.6,106.20 L467.6,106.16 L466.6,106.07 L465.6,105.93 L464.6,105.64 L463.6,105.32 L462.6,105.12 L461.6,105.11 L460.6,105.11 L459.6,105.10 L458.6,105.09 L457.6,105.09 L456.6,105.09 L455.6,105.09 L454.6,105.10 L453.6,105.12 L452.6,105.13 L451.6,105.16 L450.6,105.18 L449.6,105.21 L448.6,105.23 L447.6,105.28 L446.6,105.42 L445.6,105.72 L444.6,106.11 L443.6,106.47 L442.6,106.64 L441.6,106.70 L440.6,106.70 L439.6,106.67 L438.6,106.61 L437.6,106.55 L436.6,106.46 L435.6,106.34 L434.6,106.22 L433.6,106.12 L432.6,106.05 L431.6,106.04 L430.6,106.08 L429.6,106.16 L428.6,106.27 L427.6,106.38 L426.6,106.48 L425.6,106.57 L424.6,106.65 L423.6,106.75 L422.6,106.83 L421.6,106.90 L420.6,106.94 L419.6,106.94 L418.6,106.85 L417.6,106.72 L416.6,106.59 L415.6,106.50 L414.6,106.51 L413.6,106.62 L412.6,106.80 L411.6,106.98 L410.6,107.10 L409.6,107.21 L408.6,107.31 L407.6,107.40 L406.6,107.47 L405.6,107.53 L404.6,107.56 L403.6,107.57 L402.6,107.56 L401.6,107.53 L400.6,107.49 L399.6,107.42 L398.6,107.33 L397.6,107.16 L396.6,106.95 L395.6,106.74Z" fill="#070707" opacity="1.0" stroke="#070707" stroke-width="0.3" stroke-linejoin="round"/>
</g>
</g>
<rect x="384.7" y="89.3" width="221.59999999999997" height="26.900000000000006" fill="none" stroke="#161616" stroke-width="1.3"/>
<clipPath id="cp3"><rect x="384.7" y="124.2" width="221.59999999999997" height="25.999999999999986"/></clipPath>
<rect x="384.7" y="124.2" width="221.59999999999997" height="25.999999999999986" fill="#cecece"/>
<g clip-path="url(#cp3)">
<g filter="url(#b3)">
<rect x="380.0" y="120.0" width="20.0" height="36.0" fill="#e2e2e2" opacity="0.9"/>
<rect x="598.0" y="120.0" width="12.0" height="36.0" fill="#dcdcdc" opacity="0.9"/>
<rect x="404.0" y="128.0" width="60.0" height="16.0" fill="#c0c0c0" opacity="0.7"/>
<rect x="468.0" y="129.0" width="64.0" height="11.0" fill="#b0b0b0" opacity="0.55"/>
<rect x="534.0" y="128.0" width="66.0" height="14.0" fill="#9a9a9a" opacity="0.55"/>
</g>
<g filter="url(#b2)">
<path d="M403.0,140.65 L404.0,140.55 L405.0,140.45 L406.0,140.34 L407.0,140.24 L408.0,140.14 L409.0,140.06 L410.0,140.00 L411.0,139.95 L412.0,139.92 L413.0,139.89 L414.0,139.86 L415.0,139.84 L416.0,139.83 L417.0,139.82 L418.0,139.81 L419.0,139.80 L420.0,139.80 L421.0,139.80 L422.0,139.80 L423.0,139.80 L424.0,139.80 L425.0,139.81 L426.0,139.81 L427.0,139.82 L428.0,139.84 L429.0,139.85 L430.0,139.86 L431.0,139.88 L432.0,139.90 L433.0,139.92 L434.0,139.95 L435.0,139.99 L436.0,140.02 L437.0,140.06 L438.0,140.10 L439.0,140.14 L440.0,140.18 L440.0,141.81 L439.0,141.82 L438.0,141.84 L437.0,141.86 L436.0,141.88 L435.0,141.89 L434.0,141.90 L433.0,141.90 L432.0,141.90 L431.0,141.89 L430.0,141.87 L429.0,141.84 L428.0,141.82 L427.0,141.79 L426.0,141.76 L425.0,141.72 L424.0,141.69 L423.0,141.66 L422.0,141.64 L421.0,141.62 L420.0,141.60 L419.0,141.59 L418.0,141.59 L417.0,141.60 L416.0,141.61 L415.0,141.62 L414.0,141.63 L413.0,141.63 L412.0,141.63 L411.0,141.62 L410.0,141.60 L409.0,141.56 L408.0,141.51 L407.0,141.44 L406.0,141.37 L405.0,141.29 L404.0,141.22 L403.0,141.15Z" fill="#7d7d7d" opacity="0.75" stroke="#7d7d7d" stroke-width="0.3" stroke-linejoin="round"/>
<path d="M450.5,141.34 L451.0,140.66 L451.5,140.41 L452.0,140.28 L452.5,140.22 L453.0,140.20 L453.5,140.20 L454.0,140.20 L454.5,140.22 L455.0,140.28 L455.5,140.41 L456.0,140.66 L456.5,141.34 L456.5,141.66 L456.0,142.34 L455.5,142.59 L455.0,142.72 L454.5,142.78 L454.0,142.80 L453.5,142.80 L453.0,142.80 L452.5,142.78 L452.0,142.72 L451.5,142.59 L451.0,142.34 L450.5,141.66Z" fill="#777777" opacity="0.8" stroke="#777777" stroke-width="0.3" stroke-linejoin="round"/>
<rect x="553.0" y="128.0" width="11.0" height="12.0" fill="#555" opacity="0.5"/>
<rect x="569.0" y="128.0" width="10.0" height="12.0" fill="#666" opacity="0.45"/>
<rect x="585.0" y="129.0" width="13.0" height="12.0" fill="#333" opacity="0.65"/>
<rect x="537.0" y="131.0" width="9.0" height="9.0" fill="#888" opacity="0.5"/>
</g>
<g filter="url(#b0)">
<path d="M467.5,139.45 L468.0,139.13 L468.5,138.81 L469.0,138.58 L469.5,138.45 L470.0,138.37 L470.5,138.29 L471.0,138.23 L471.5,138.19 L472.0,138.15 L472.5,138.13 L473.0,138.12 L473.5,138.11 L474.0,138.11 L474.5,138.11 L475.0,138.12 L475.5,138.13 L476.0,138.14 L476.5,138.16 L477.0,138.18 L477.5,138.20 L478.0,138.23 L478.5,138.26 L479.0,138.30 L479.5,138.35 L480.0,138.42 L480.5,138.49 L481.0,138.58 L481.5,138.68 L482.0,138.80 L482.5,138.99 L483.0,139.29 L483.5,139.65 L483.5,140.38 L483.0,140.66 L482.5,140.89 L482.0,141.02 L481.5,141.08 L481.0,141.12 L480.5,141.16 L480.0,141.18 L479.5,141.19 L479.0,141.20 L478.5,141.20 L478.0,141.19 L477.5,141.18 L477.0,141.17 L476.5,141.16 L476.0,141.14 L475.5,141.13 L475.0,141.12 L474.5,141.11 L474.0,141.10 L473.5,141.08 L473.0,141.06 L472.5,141.04 L472.0,141.02 L471.5,140.98 L471.0,140.94 L470.5,140.89 L470.0,140.82 L469.5,140.75 L469.0,140.63 L468.5,140.41 L468.0,140.12 L467.5,139.81Z" fill="#0a0a0a" opacity="1.0" stroke="#0a0a0a" stroke-width="0.3" stroke-linejoin="round"/>
<path d="M484.6,140.18 L485.1,139.82 L485.6,139.47 L486.1,139.21 L486.6,139.07 L487.1,138.99 L487.6,138.92 L488.1,138.86 L488.6,138.82 L489.1,138.79 L489.6,138.78 L490.1,138.77 L490.6,138.76 L491.1,138.77 L491.6,138.77 L492.1,138.78 L492.6,138.80 L493.1,138.81 L493.6,138.82 L494.1,138.84 L494.6,138.85 L495.1,138.88 L495.6,138.90 L496.1,138.94 L496.6,138.98 L497.1,139.04 L497.6,139.11 L498.1,139.19 L498.6,139.29 L499.1,139.40 L499.6,139.58 L500.1,139.89 L500.6,140.28 L500.6,141.30 L500.1,141.67 L499.6,141.95 L499.1,142.11 L498.6,142.19 L498.1,142.27 L497.6,142.33 L497.1,142.37 L496.6,142.40 L496.1,142.42 L495.6,142.43 L495.1,142.44 L494.6,142.43 L494.1,142.43 L493.6,142.42 L493.1,142.41 L492.6,142.40 L492.1,142.38 L491.6,142.37 L491.1,142.35 L490.6,142.33 L490.1,142.30 L489.6,142.27 L489.1,142.23 L488.6,142.17 L488.1,142.11 L487.6,142.03 L487.1,141.93 L486.6,141.83 L486.1,141.66 L485.6,141.38 L485.1,141.00 L484.6,140.62Z" fill="#0a0a0a" opacity="1.0" stroke="#0a0a0a" stroke-width="0.3" stroke-linejoin="round"/>
<path d="M502.6,141.09 L503.1,140.75 L503.6,140.43 L504.1,140.25 L504.6,140.16 L505.1,140.10 L505.6,140.05 L506.1,140.01 L506.6,139.99 L507.1,139.98 L507.6,139.97 L508.1,139.96 L508.6,139.96 L509.1,139.96 L509.6,139.97 L510.1,139.96 L510.6,139.96 L511.1,139.96 L511.6,139.97 L512.1,139.98 L512.6,139.99 L513.1,140.01 L513.6,140.05 L514.1,140.10 L514.6,140.16 L515.1,140.25 L515.6,140.43 L516.1,140.75 L516.6,141.09 L516.6,141.45 L516.1,141.84 L515.6,142.21 L515.1,142.44 L514.6,142.57 L514.1,142.67 L513.6,142.75 L513.1,142.82 L512.6,142.87 L512.1,142.91 L511.6,142.93 L511.1,142.95 L510.6,142.96 L510.1,142.97 L509.6,142.97 L509.1,142.97 L508.6,142.96 L508.1,142.95 L507.6,142.93 L507.1,142.91 L506.6,142.87 L506.1,142.82 L505.6,142.75 L505.1,142.67 L504.6,142.57 L504.1,142.44 L503.6,142.21 L503.1,141.84 L502.6,141.45Z" fill="#0a0a0a" opacity="1.0" stroke="#0a0a0a" stroke-width="0.3" stroke-linejoin="round"/>
<path d="M520.6,141.02 L521.1,140.63 L521.6,140.27 L522.1,140.02 L522.6,139.87 L523.1,139.76 L523.6,139.66 L524.1,139.57 L524.6,139.50 L525.1,139.43 L525.6,139.38 L526.1,139.33 L526.6,139.29 L527.1,139.26 L527.6,139.22 L528.1,139.19 L528.6,139.15 L529.1,139.12 L529.6,139.09 L530.1,139.07 L530.6,139.05 L531.1,139.04 L531.6,139.05 L532.1,139.06 L532.6,139.09 L533.1,139.14 L533.6,139.20 L534.1,139.36 L534.6,139.64 L535.1,139.96 L535.1,140.45 L534.6,140.84 L534.1,141.19 L533.6,141.42 L533.1,141.55 L532.6,141.66 L532.1,141.76 L531.6,141.85 L531.1,141.92 L530.6,141.98 L530.1,142.03 L529.6,142.07 L529.1,142.11 L528.6,142.15 L528.1,142.19 L527.6,142.22 L527.1,142.25 L526.6,142.28 L526.1,142.31 L525.6,142.33 L525.1,142.35 L524.6,142.36 L524.1,142.35 L523.6,142.33 L523.1,142.30 L522.6,142.25 L522.1,142.17 L521.6,141.99 L521.1,141.70 L520.6,141.38Z" fill="#0a0a0a" opacity="1.0" stroke="#0a0a0a" stroke-width="0.3" stroke-linejoin="round"/>
<path d="M535.0,140.10 L535.5,139.62 L536.0,139.21 L536.5,139.00 L537.0,138.88 L537.5,138.78 L538.0,138.72 L538.5,138.67 L539.0,138.64 L539.5,138.62 L540.0,138.61 L540.5,138.60 L541.0,138.60 L541.5,138.60 L542.0,138.60 L542.5,138.61 L543.0,138.63 L543.5,138.65 L544.0,138.69 L544.5,138.75 L545.0,138.84 L545.5,138.95 L546.0,139.10 L546.5,139.43 L547.0,139.91 L547.0,140.69 L546.5,141.17 L546.0,141.50 L545.5,141.65 L545.0,141.76 L544.5,141.85 L544.0,141.91 L543.5,141.95 L543.0,141.97 L542.5,141.99 L542.0,142.00 L541.5,142.00 L541.0,142.00 L540.5,142.00 L540.0,141.99 L539.5,141.98 L539.0,141.96 L538.5,141.93 L538.0,141.88 L537.5,141.82 L537.0,141.72 L536.5,141.60 L536.0,141.39 L535.5,140.98 L535.0,140.50Z" fill="#080808" opacity="1.0" stroke="#080808" stroke-width="0.3" stroke-linejoin="round"/>
<path d="M551.0,140.08 L551.5,139.65 L552.0,139.25 L552.5,138.99 L553.0,138.86 L553.5,138.76 L554.0,138.68 L554.5,138.62 L555.0,138.58 L555.5,138.55 L556.0,138.52 L556.5,138.51 L557.0,138.50 L557.5,138.50 L558.0,138.50 L558.5,138.50 L559.0,138.50 L559.5,138.51 L560.0,138.52 L560.5,138.54 L561.0,138.56 L561.5,138.60 L562.0,138.66 L562.5,138.73 L563.0,138.82 L563.5,138.93 L564.0,139.12 L564.5,139.48 L565.0,139.92 L565.0,140.68 L564.5,141.12 L564.0,141.48 L563.5,141.67 L563.0,141.78 L562.5,141.87 L562.0,141.94 L561.5,142.00 L561.0,142.04 L560.5,142.06 L560.0,142.08 L559.5,142.09 L559.0,142.10 L558.5,142.10 L558.0,142.10 L557.5,142.10 L557.0,142.10 L556.5,142.09 L556.0,142.08 L555.5,142.05 L555.0,142.02 L554.5,141.98 L554.0,141.92 L553.5,141.84 L553.0,141.74 L552.5,141.61 L552.0,141.35 L551.5,140.95 L551.0,140.52Z" fill="#060606" opacity="1.0" stroke="#060606" stroke-width="0.3" stroke-linejoin="round"/>
<path d="M566.6,140.28 L567.1,139.85 L567.6,139.45 L568.1,139.19 L568.6,139.06 L569.1,138.96 L569.6,138.88 L570.1,138.82 L570.6,138.78 L571.1,138.75 L571.6,138.72 L572.1,138.71 L572.6,138.70 L573.1,138.70 L573.6,138.70 L574.1,138.70 L574.6,138.70 L575.1,138.71 L575.6,138.72 L576.1,138.74 L576.6,138.76 L577.1,138.80 L577.6,138.86 L578.1,138.93 L578.6,139.02 L579.1,139.13 L579.6,139.32 L580.1,139.68 L580.6,140.12 L580.6,140.88 L580.1,141.32 L579.6,141.68 L579.1,141.87 L578.6,141.98 L578.1,142.07 L577.6,142.14 L577.1,142.20 L576.6,142.24 L576.1,142.26 L575.6,142.28 L575.1,142.29 L574.6,142.30 L574.1,142.30 L573.6,142.30 L573.1,142.30 L572.6,142.30 L572.1,142.29 L571.6,142.28 L571.1,142.25 L570.6,142.22 L570.1,142.18 L569.6,142.12 L569.1,142.04 L568.6,141.94 L568.1,141.81 L567.6,141.55 L567.1,141.15 L566.6,140.72Z" fill="#060606" opacity="1.0" stroke="#060606" stroke-width="0.3" stroke-linejoin="round"/>
<path d="M582.6,141.44 L583.1,141.01 L583.6,140.58 L584.1,140.25 L584.6,140.05 L585.1,139.93 L585.6,139.83 L586.1,139.75 L586.6,139.68 L587.1,139.63 L587.6,139.59 L588.1,139.56 L588.6,139.53 L589.1,139.52 L589.6,139.51 L590.1,139.50 L590.6,139.50 L591.1,139.50 L591.6,139.50 L592.1,139.50 L592.6,139.50 L593.1,139.51 L593.6,139.52 L594.1,139.54 L594.6,139.56 L595.1,139.59 L595.6,139.64 L596.1,139.69 L596.6,139.76 L597.1,139.85 L597.6,139.95 L598.1,140.08 L598.6,140.30 L599.1,140.66 L599.6,141.09 L599.6,142.31 L599.1,142.74 L598.6,143.10 L598.1,143.32 L597.6,143.45 L597.1,143.55 L596.6,143.64 L596.1,143.71 L595.6,143.76 L595.1,143.81 L594.6,143.84 L594.1,143.86 L593.6,143.88 L593.1,143.89 L592.6,143.90 L592.1,143.90 L591.6,143.90 L591.1,143.90 L590.6,143.90 L590.1,143.90 L589.6,143.89 L589.1,143.88 L588.6,143.87 L588.1,143.84 L587.6,143.81 L587.1,143.77 L586.6,143.72 L586.1,143.65 L585.6,143.57 L585.1,143.47 L584.6,143.35 L584.1,143.15 L583.6,142.82 L583.1,142.39 L582.6,141.96Z" fill="#050505" opacity="1.0" stroke="#050505" stroke-width="0.3" stroke-linejoin="round"/>
<path d="M537.7,130.00 L538.2,129.71 L538.7,129.53 L539.2,129.46 L539.7,129.41 L540.2,129.38 L540.7,129.36 L541.2,129.35 L541.7,129.35 L542.2,129.35 L542.7,129.35 L543.2,129.36 L543.7,129.38 L544.2,129.41 L544.7,129.46 L545.2,129.53 L545.7,129.71 L546.2,130.00 L546.2,130.20 L545.7,130.49 L545.2,130.67 L544.7,130.74 L544.2,130.79 L543.7,130.82 L543.2,130.84 L542.7,130.85 L542.2,130.85 L541.7,130.85 L541.2,130.85 L540.7,130.84 L540.2,130.82 L539.7,130.79 L539.2,130.74 L538.7,130.67 L538.2,130.49 L537.7,130.20Z" fill="#2a2a2a" opacity="1.0" stroke="#2a2a2a" stroke-width="0.3" stroke-linejoin="round"/>
<path d="M551.8,129.50 L552.3,129.05 L552.8,128.65 L553.3,128.42 L553.8,128.31 L554.3,128.21 L554.8,128.14 L555.3,128.08 L555.8,128.05 L556.3,128.02 L556.8,128.01 L557.3,128.00 L557.8,128.00 L558.3,128.00 L558.8,128.00 L559.3,128.00 L559.8,128.01 L560.3,128.02 L560.8,128.05 L561.3,128.08 L561.8,128.14 L562.3,128.21 L562.8,128.31 L563.3,128.42 L563.8,128.65 L564.3,129.05 L564.8,129.50 L564.8,129.90 L564.3,130.35 L563.8,130.75 L563.3,130.98 L562.8,131.09 L562.3,131.19 L561.8,131.26 L561.3,131.32 L560.8,131.35 L560.3,131.38 L559.8,131.39 L559.3,131.40 L558.8,131.40 L558.3,131.40 L557.8,131.40 L557.3,131.40 L556.8,131.39 L556.3,131.38 L555.8,131.35 L555.3,131.32 L554.8,131.26 L554.3,131.19 L553.8,131.09 L553.3,130.98 L552.8,130.75 L552.3,130.35 L551.8,129.90Z" fill="#080808" opacity="1.0" stroke="#080808" stroke-width="0.3" stroke-linejoin="round"/>
<path d="M567.2,129.94 L567.7,129.58 L568.2,129.26 L568.7,129.08 L569.2,128.99 L569.7,128.91 L570.2,128.86 L570.7,128.81 L571.2,128.79 L571.7,128.77 L572.2,128.76 L572.7,128.75 L573.2,128.75 L573.7,128.75 L574.2,128.75 L574.7,128.75 L575.2,128.76 L575.7,128.77 L576.2,128.80 L576.7,128.83 L577.2,128.88 L577.7,128.94 L578.2,129.02 L578.7,129.13 L579.2,129.37 L579.7,129.72 L579.7,130.48 L579.2,130.83 L578.7,131.07 L578.2,131.18 L577.7,131.26 L577.2,131.32 L576.7,131.37 L576.2,131.40 L575.7,131.43 L575.2,131.44 L574.7,131.45 L574.2,131.45 L573.7,131.45 L573.2,131.45 L572.7,131.45 L572.2,131.44 L571.7,131.43 L571.2,131.41 L570.7,131.39 L570.2,131.34 L569.7,131.29 L569.2,131.21 L568.7,131.12 L568.2,130.94 L567.7,130.62 L567.2,130.26Z" fill="#0a0a0a" opacity="1.0" stroke="#0a0a0a" stroke-width="0.3" stroke-linejoin="round"/>
<path d="M584.4,131.32 L584.9,130.95 L585.4,130.60 L585.9,130.40 L586.4,130.29 L586.9,130.21 L587.4,130.14 L587.9,130.09 L588.4,130.06 L588.9,130.03 L589.4,130.02 L589.9,130.01 L590.4,130.00 L590.9,130.00 L591.4,130.00 L591.9,130.00 L592.4,130.00 L592.9,130.01 L593.4,130.02 L593.9,130.04 L594.4,130.07 L594.9,130.11 L595.4,130.16 L595.9,130.24 L596.4,130.33 L596.9,130.46 L597.4,130.73 L597.9,131.10 L597.9,131.90 L597.4,132.27 L596.9,132.54 L596.4,132.67 L595.9,132.76 L595.4,132.84 L594.9,132.89 L594.4,132.93 L593.9,132.96 L593.4,132.98 L592.9,132.99 L592.4,133.00 L591.9,133.00 L591.4,133.00 L590.9,133.00 L590.4,133.00 L589.9,132.99 L589.4,132.98 L588.9,132.97 L588.4,132.94 L587.9,132.91 L587.4,132.86 L586.9,132.79 L586.4,132.71 L585.9,132.60 L585.4,132.40 L584.9,132.05 L584.4,131.68Z" fill="#080808" opacity="1.0" stroke="#080808" stroke-width="0.3" stroke-linejoin="round"/>
<path d="M552.4,135.47 L552.9,135.15 L553.4,134.89 L553.9,134.75 L554.4,134.68 L554.9,134.61 L555.4,134.57 L555.9,134.54 L556.4,134.52 L556.9,134.51 L557.4,134.50 L557.9,134.50 L558.4,134.50 L558.9,134.50 L559.4,134.50 L559.9,134.51 L560.4,134.52 L560.9,134.54 L561.4,134.57 L561.9,134.61 L562.4,134.68 L562.9,134.75 L563.4,134.89 L563.9,135.15 L564.4,135.47 L564.4,135.73 L563.9,136.05 L563.4,136.31 L562.9,136.45 L562.4,136.52 L561.9,136.59 L561.4,136.63 L560.9,136.66 L560.4,136.68 L559.9,136.69 L559.4,136.70 L558.9,136.70 L558.4,136.70 L557.9,136.70 L557.4,136.70 L556.9,136.69 L556.4,136.68 L555.9,136.66 L555.4,136.63 L554.9,136.59 L554.4,136.52 L553.9,136.45 L553.4,136.31 L552.9,136.05 L552.4,135.73Z" fill="#1c1c1c" opacity="1.0" stroke="#1c1c1c" stroke-width="0.3" stroke-linejoin="round"/>
<path d="M568.0,135.57 L568.5,135.26 L569.0,135.01 L569.5,134.88 L570.0,134.81 L570.5,134.75 L571.0,134.71 L571.5,134.68 L572.0,134.67 L572.5,134.66 L573.0,134.65 L573.5,134.65 L574.0,134.65 L574.5,134.65 L575.0,134.65 L575.5,134.66 L576.0,134.68 L576.5,134.70 L577.0,134.74 L577.5,134.80 L578.0,134.87 L578.5,134.97 L579.0,135.20 L579.5,135.51 L579.5,135.89 L579.0,136.20 L578.5,136.43 L578.0,136.53 L577.5,136.60 L577.0,136.66 L576.5,136.70 L576.0,136.72 L575.5,136.74 L575.0,136.75 L574.5,136.75 L574.0,136.75 L573.5,136.75 L573.0,136.75 L572.5,136.74 L572.0,136.73 L571.5,136.72 L571.0,136.69 L570.5,136.65 L570.0,136.59 L569.5,136.52 L569.0,136.39 L568.5,136.14 L568.0,135.83Z" fill="#222222" opacity="1.0" stroke="#222222" stroke-width="0.3" stroke-linejoin="round"/>
<path d="M585.0,136.45 L585.5,136.12 L586.0,135.83 L586.5,135.66 L587.0,135.58 L587.5,135.50 L588.0,135.45 L588.5,135.41 L589.0,135.39 L589.5,135.37 L590.0,135.36 L590.5,135.35 L591.0,135.35 L591.5,135.35 L592.0,135.35 L592.5,135.35 L593.0,135.36 L593.5,135.37 L594.0,135.39 L594.5,135.41 L595.0,135.45 L595.5,135.50 L596.0,135.58 L596.5,135.66 L597.0,135.83 L597.5,136.12 L598.0,136.45 L598.0,136.75 L597.5,137.08 L597.0,137.37 L596.5,137.54 L596.0,137.62 L595.5,137.70 L595.0,137.75 L594.5,137.79 L594.0,137.81 L593.5,137.83 L593.0,137.84 L592.5,137.85 L592.0,137.85 L591.5,137.85 L591.0,137.85 L590.5,137.85 L590.0,137.84 L589.5,137.83 L589.0,137.81 L588.5,137.79 L588.0,137.75 L587.5,137.70 L587.0,137.62 L586.5,137.54 L586.0,137.37 L585.5,137.08 L585.0,136.75Z" fill="#101010" opacity="1.0" stroke="#101010" stroke-width="0.3" stroke-linejoin="round"/>
</g>
</g>
<rect x="384.7" y="124.2" width="221.59999999999997" height="25.999999999999986" fill="none" stroke="#161616" stroke-width="1.3"/>
<clipPath id="cp4"><rect x="384.7" y="158.3" width="221.59999999999997" height="24.69999999999999"/></clipPath>
<rect x="384.7" y="158.3" width="221.59999999999997" height="24.69999999999999" fill="#ececec"/>
<g clip-path="url(#cp4)">
<g filter="url(#b3)">
<rect x="520.0" y="163.0" width="72.0" height="5.0" fill="#d8d8d8" opacity="0.8"/>
</g>
<g filter="url(#b1)">
<path d="M388.0,172.27 L389.0,172.17 L390.0,172.07 L391.0,171.97 L392.0,171.85 L393.0,171.72 L394.0,171.52 L395.0,171.28 L396.0,171.06 L397.0,170.93 L398.0,170.89 L399.0,170.89 L400.0,170.90 L401.0,170.94 L402.0,170.99 L403.0,171.05 L404.0,171.11 L405.0,171.17 L406.0,171.25 L407.0,171.33 L408.0,171.42 L409.0,171.51 L410.0,171.60 L411.0,171.69 L412.0,171.77 L413.0,171.85 L414.0,171.92 L415.0,171.98 L416.0,172.04 L417.0,172.09 L418.0,172.14 L419.0,172.18 L420.0,172.23 L421.0,172.27 L422.0,172.32 L423.0,172.37 L424.0,172.42 L425.0,172.47 L426.0,172.52 L427.0,172.57 L428.0,172.62 L429.0,172.67 L430.0,172.74 L431.0,172.82 L432.0,172.92 L433.0,173.05 L434.0,173.23 L435.0,173.43 L436.0,173.63 L437.0,173.82 L438.0,174.04 L439.0,174.28 L440.0,174.47 L441.0,174.53 L442.0,174.41 L443.0,174.15 L444.0,173.82 L445.0,173.41 L446.0,172.80 L447.0,172.44 L448.0,172.57 L449.0,172.93 L450.0,173.33 L451.0,173.76 L452.0,174.25 L453.0,174.68 L454.0,174.93 L455.0,174.97 L456.0,174.85 L457.0,174.62 L458.0,174.33 L459.0,173.89 L460.0,173.30 L461.0,172.75 L462.0,172.43 L463.0,172.32 L464.0,172.27 L465.0,172.27 L466.0,172.30 L467.0,172.36 L468.0,172.43 L469.0,172.48 L470.0,172.52 L471.0,172.55 L472.0,172.58 L473.0,172.63 L474.0,172.67 L475.0,172.72 L476.0,172.76 L477.0,172.79 L478.0,172.81 L479.0,172.83 L480.0,172.82 L481.0,172.80 L482.0,172.75 L483.0,172.70 L484.0,172.63 L485.0,172.56 L486.0,172.49 L487.0,172.41 L488.0,172.35 L489.0,172.29 L490.0,172.24 L491.0,172.21 L492.0,172.20 L493.0,172.20 L494.0,172.22 L495.0,172.25 L496.0,172.28 L497.0,172.32 L498.0,172.35 L499.0,172.38 L500.0,172.41 L501.0,172.43 L502.0,172.45 L503.0,172.46 L504.0,172.48 L505.0,172.49 L506.0,172.51 L507.0,172.53 L508.0,172.56 L509.0,172.59 L510.0,172.63 L511.0,172.74 L512.0,172.89 L513.0,172.97 L514.0,172.94 L515.0,172.86 L516.0,172.76 L517.0,172.68 L518.0,172.64 L519.0,172.64 L520.0,172.65 L521.0,172.67 L522.0,172.71 L523.0,172.75 L524.0,172.80 L525.0,172.85 L526.0,172.96 L527.0,173.11 L528.0,173.18 L529.0,173.14 L530.0,173.07 L531.0,172.97 L532.0,172.87 L533.0,172.79 L534.0,172.74 L535.0,172.73 L536.0,172.73 L537.0,172.75 L538.0,172.79 L539.0,172.82 L540.0,172.85 L541.0,172.91 L542.0,172.98 L543.0,172.98 L544.0,172.91 L545.0,172.82 L546.0,172.71 L547.0,172.59 L548.0,172.48 L549.0,172.39 L550.0,172.33 L551.0,172.30 L552.0,172.28 L553.0,172.28 L554.0,172.28 L555.0,172.29 L556.0,172.31 L557.0,172.32 L558.0,172.32 L558.0,176.28 L557.0,176.26 L556.0,176.23 L555.0,176.21 L554.0,176.19 L553.0,176.17 L552.0,176.14 L551.0,176.11 L550.0,176.07 L549.0,176.01 L548.0,175.93 L547.0,175.84 L546.0,175.76 L545.0,175.68 L544.0,175.63 L543.0,175.62 L542.0,175.75 L541.0,175.98 L540.0,176.15 L539.0,176.21 L538.0,176.25 L537.0,176.28 L536.0,176.29 L535.0,176.28 L534.0,176.26 L533.0,176.21 L532.0,176.13 L531.0,176.03 L530.0,175.93 L529.0,175.86 L528.0,175.82 L527.0,175.89 L526.0,176.05 L525.0,176.15 L524.0,176.18 L523.0,176.20 L522.0,176.21 L521.0,176.21 L520.0,176.20 L519.0,176.18 L518.0,176.16 L517.0,176.10 L516.0,176.01 L515.0,175.91 L514.0,175.84 L513.0,175.83 L512.0,175.97 L511.0,176.21 L510.0,176.37 L509.0,176.42 L508.0,176.47 L507.0,176.50 L506.0,176.53 L505.0,176.55 L504.0,176.57 L503.0,176.58 L502.0,176.58 L501.0,176.59 L500.0,176.59 L499.0,176.58 L498.0,176.56 L497.0,176.53 L496.0,176.50 L495.0,176.46 L494.0,176.43 L493.0,176.40 L492.0,176.39 L491.0,176.39 L490.0,176.41 L489.0,176.44 L488.0,176.47 L487.0,176.52 L486.0,176.57 L485.0,176.62 L484.0,176.66 L483.0,176.71 L482.0,176.74 L481.0,176.77 L480.0,176.78 L479.0,176.78 L478.0,176.77 L477.0,176.74 L476.0,176.71 L475.0,176.68 L474.0,176.64 L473.0,176.60 L472.0,176.56 L471.0,176.52 L470.0,176.48 L469.0,176.43 L468.0,176.34 L467.0,176.25 L466.0,176.16 L465.0,176.09 L464.0,176.06 L463.0,176.08 L462.0,176.17 L461.0,176.48 L460.0,177.03 L459.0,177.62 L458.0,178.07 L457.0,178.36 L456.0,178.59 L455.0,178.71 L454.0,178.67 L453.0,178.42 L452.0,178.00 L451.0,177.51 L450.0,177.07 L449.0,176.61 L448.0,176.15 L447.0,175.96 L446.0,176.30 L445.0,176.91 L444.0,177.36 L443.0,177.76 L442.0,178.09 L441.0,178.27 L440.0,178.27 L439.0,178.14 L438.0,177.96 L437.0,177.78 L436.0,177.60 L435.0,177.40 L434.0,177.20 L433.0,177.02 L432.0,176.88 L431.0,176.78 L430.0,176.70 L429.0,176.63 L428.0,176.58 L427.0,176.53 L426.0,176.48 L425.0,176.43 L424.0,176.38 L423.0,176.33 L422.0,176.27 L421.0,176.22 L420.0,176.18 L419.0,176.13 L418.0,176.08 L417.0,176.03 L416.0,175.98 L415.0,175.93 L414.0,175.88 L413.0,175.83 L412.0,175.77 L411.0,175.72 L410.0,175.66 L409.0,175.61 L408.0,175.55 L407.0,175.49 L406.0,175.43 L405.0,175.36 L404.0,175.29 L403.0,175.22 L402.0,175.16 L401.0,175.10 L400.0,175.02 L399.0,174.93 L398.0,174.82 L397.0,174.67 L396.0,174.43 L395.0,174.09 L394.0,173.74 L393.0,173.48 L392.0,173.32 L391.0,173.20 L390.0,173.11 L389.0,173.03 L388.0,172.93Z" fill="#686868" opacity="0.95" stroke="#686868" stroke-width="0.3" stroke-linejoin="round"/>
<path d="M556.0,172.65 L557.0,172.58 L558.0,172.51 L559.0,172.43 L560.0,172.37 L561.0,172.32 L562.0,172.29 L563.0,172.28 L564.0,172.29 L565.0,172.30 L566.0,172.32 L567.0,172.35 L568.0,172.39 L569.0,172.43 L570.0,172.48 L571.0,172.54 L572.0,172.63 L573.0,172.72 L574.0,172.82 L575.0,172.92 L576.0,173.01 L577.0,173.10 L578.0,173.18 L579.0,173.25 L580.0,173.31 L581.0,173.38 L582.0,173.44 L583.0,173.51 L584.0,173.59 L585.0,173.67 L586.0,173.74 L587.0,173.81 L588.0,173.89 L589.0,173.98 L590.0,174.09 L591.0,174.22 L592.0,174.40 L593.0,174.64 L594.0,174.91 L595.0,175.19 L596.0,175.50 L597.0,175.83 L598.0,176.17 L598.0,176.83 L597.0,177.10 L596.0,177.38 L595.0,177.61 L594.0,177.80 L593.0,177.96 L592.0,178.10 L591.0,178.18 L590.0,178.23 L589.0,178.26 L588.0,178.28 L587.0,178.29 L586.0,178.28 L585.0,178.25 L584.0,178.21 L583.0,178.14 L582.0,178.05 L581.0,177.93 L580.0,177.81 L579.0,177.69 L578.0,177.58 L577.0,177.50 L576.0,177.45 L575.0,177.42 L574.0,177.40 L573.0,177.38 L572.0,177.37 L571.0,177.35 L570.0,177.32 L569.0,177.28 L568.0,177.25 L567.0,177.21 L566.0,177.17 L565.0,177.13 L564.0,177.07 L563.0,177.00 L562.0,176.91 L561.0,176.79 L560.0,176.65 L559.0,176.48 L558.0,176.30 L557.0,176.12 L556.0,175.95Z" fill="#3a3a3a" opacity="0.95" stroke="#3a3a3a" stroke-width="0.3" stroke-linejoin="round"/>
</g>
</g>
<rect x="384.7" y="158.3" width="221.59999999999997" height="24.69999999999999" fill="none" stroke="#161616" stroke-width="1.3"/>
<text x="610.30" y="72.30" font-size="11.25" text-anchor="start" fill="#231815">p-HSL(S660)</text>
<text x="609.60" y="108.30" font-size="11.25" text-anchor="start" fill="#231815">HSL</text>
<text x="609.60" y="141.70" font-size="11.25" text-anchor="start" fill="#231815">PRMT4</text>
<text x="610.40" y="174.30" font-size="11.25" text-anchor="start" fill="#231815">Tubulin</text>
<line x1="397.80" y1="188.90" x2="458.80" y2="188.90" stroke="#1c1c1c" stroke-width="1.6" stroke-linecap="butt"/>
<line x1="465.40" y1="188.90" x2="523.60" y2="188.90" stroke="#1c1c1c" stroke-width="1.6" stroke-linecap="butt"/>
<line x1="532.30" y1="188.90" x2="591.00" y2="188.90" stroke="#1c1c1c" stroke-width="1.6" stroke-linecap="butt"/>
<text x="426.40" y="206.70" font-size="11.2" text-anchor="middle" fill="#231815">Ctrl vehicle</text>
<text x="492.80" y="206.70" font-size="11.2" text-anchor="middle" fill="#231815">Ctrl STZ</text>
<text x="559.60" y="206.70" font-size="11.2" text-anchor="middle" fill="#231815">PRMT4 STZ</text>
<clipPath id="cp5"><rect x="384.6" y="291.5" width="222.29999999999995" height="25.0"/></clipPath>
<rect x="384.6" y="291.5" width="222.29999999999995" height="25.0" fill="#ebebeb"/>
<g clip-path="url(#cp5)">
<g filter="url(#b3)">
<rect x="466.0" y="309.0" width="36.0" height="8.0" fill="#d2d2d2" opacity="0.8"/>
<rect x="500.0" y="309.0" width="80.0" height="8.0" fill="#a8a8a8" opacity="0.9"/>
<rect x="500.0" y="294.0" width="90.0" height="8.0" fill="#dcdcdc" opacity="0.7"/>
</g>
<g filter="url(#b0)">
<path d="M398.0,307.15 L399.0,306.95 L400.0,306.73 L401.0,306.54 L402.0,306.40 L403.0,306.31 L404.0,306.24 L405.0,306.18 L406.0,306.13 L407.0,306.09 L408.0,306.04 L409.0,305.98 L410.0,305.90 L411.0,305.79 L412.0,305.65 L413.0,305.49 L414.0,305.35 L415.0,305.25 L416.0,305.20 L417.0,305.34 L418.0,305.64 L418.0,307.06 L417.0,307.50 L416.0,307.80 L415.0,307.92 L414.0,308.00 L413.0,308.04 L412.0,308.06 L411.0,308.08 L410.0,308.10 L409.0,308.13 L408.0,308.16 L407.0,308.19 L406.0,308.22 L405.0,308.23 L404.0,308.24 L403.0,308.23 L402.0,308.20 L401.0,308.12 L400.0,307.97 L399.0,307.81 L398.0,307.65Z" fill="#0a0a0a" opacity="1.0" stroke="#0a0a0a" stroke-width="0.3" stroke-linejoin="round"/>
<path d="M419.0,306.20 L420.0,305.86 L421.0,305.50 L422.0,305.15 L423.0,304.84 L424.0,304.60 L425.0,304.42 L426.0,304.27 L427.0,304.16 L428.0,304.07 L429.0,304.02 L430.0,304.00 L431.0,304.01 L432.0,304.05 L433.0,304.12 L434.0,304.22 L435.0,304.34 L436.0,304.50 L437.0,304.71 L438.0,304.99 L439.0,305.31 L440.0,305.62 L440.0,307.02 L439.0,307.05 L438.0,307.08 L437.0,307.10 L436.0,307.10 L435.0,307.07 L434.0,307.01 L433.0,306.94 L432.0,306.88 L431.0,306.83 L430.0,306.80 L429.0,306.81 L428.0,306.84 L427.0,306.88 L426.0,306.93 L425.0,306.97 L424.0,307.00 L423.0,307.01 L422.0,307.01 L421.0,307.01 L420.0,307.00 L419.0,307.00Z" fill="#0a0a0a" opacity="1.0" stroke="#0a0a0a" stroke-width="0.3" stroke-linejoin="round"/>
<path d="M440.6,306.10 L441.6,305.36 L442.6,304.72 L443.6,304.51 L444.6,304.41 L445.6,304.34 L446.6,304.30 L447.6,304.28 L448.6,304.28 L449.6,304.29 L450.6,304.30 L451.6,304.30 L452.6,304.30 L453.6,304.29 L454.6,304.30 L455.6,304.31 L456.6,304.32 L457.6,304.34 L458.6,304.35 L459.6,304.37 L460.6,304.39 L461.6,304.40 L462.6,304.42 L463.6,304.47 L464.6,304.48 L465.6,304.36 L466.6,303.97 L467.6,303.52 L468.6,303.27 L469.6,303.08 L470.6,302.91 L471.6,302.76 L472.6,302.63 L473.6,302.53 L474.6,302.46 L475.6,302.44 L476.6,302.48 L477.6,302.56 L478.6,302.68 L479.6,302.86 L480.6,303.07 L481.6,303.29 L482.6,303.49 L483.6,303.65 L484.6,303.76 L485.6,303.83 L486.6,303.87 L487.6,303.89 L488.6,303.89 L489.6,303.90 L490.6,303.90 L491.6,303.90 L492.6,303.88 L493.6,303.87 L494.6,303.84 L495.6,303.83 L496.6,303.81 L497.6,303.80 L498.6,303.80 L499.6,303.81 L500.6,303.82 L501.6,303.84 L502.6,303.86 L503.6,303.88 L504.6,303.89 L505.6,303.90 L506.6,303.90 L507.6,303.89 L508.6,303.88 L509.6,303.86 L510.6,303.84 L511.6,303.82 L512.6,303.81 L513.6,303.80 L514.6,303.80 L515.6,303.81 L516.6,303.82 L517.6,303.84 L518.6,303.85 L519.6,303.87 L520.6,303.89 L521.6,303.90 L522.6,303.90 L523.6,303.91 L524.6,303.91 L525.6,303.91 L526.6,303.91 L527.6,303.90 L528.6,303.90 L529.6,303.90 L530.6,303.90 L531.6,303.90 L532.6,303.90 L533.6,303.90 L534.6,303.89 L535.6,303.89 L536.6,303.89 L537.6,303.89 L538.6,303.90 L539.6,303.90 L540.6,303.90 L541.6,303.91 L542.6,303.91 L543.6,303.92 L544.6,303.93 L545.6,303.93 L546.6,303.94 L547.6,303.95 L548.6,303.96 L549.6,303.97 L550.6,303.98 L551.6,303.99 L552.6,304.01 L553.6,304.02 L554.6,304.04 L555.6,304.06 L556.6,304.08 L557.6,304.11 L558.6,304.13 L559.6,304.15 L560.6,304.17 L561.6,304.19 L562.6,304.21 L563.6,304.23 L564.6,304.25 L565.6,304.26 L566.6,304.28 L567.6,304.29 L568.6,304.31 L569.6,304.33 L570.6,304.36 L571.6,304.39 L572.6,304.42 L573.6,304.46 L574.6,304.50 L575.6,304.55 L576.6,304.60 L577.6,304.65 L578.6,304.71 L579.6,304.77 L580.6,304.84 L581.6,304.91 L582.6,304.98 L583.6,305.06 L584.6,305.15 L585.6,305.24 L586.6,305.34 L587.6,305.45 L588.6,305.57 L589.6,305.70 L590.6,305.84 L591.6,306.03 L592.6,306.28 L593.6,306.63 L594.6,307.16 L595.6,307.76 L595.6,310.69 L594.6,311.04 L593.6,311.32 L592.6,311.41 L591.6,311.37 L590.6,311.26 L589.6,311.12 L588.6,310.97 L587.6,310.86 L586.6,310.74 L585.6,310.61 L584.6,310.48 L583.6,310.35 L582.6,310.23 L581.6,310.12 L580.6,310.04 L579.6,309.98 L578.6,309.94 L577.6,309.91 L576.6,309.90 L575.6,309.90 L574.6,309.92 L573.6,309.94 L572.6,309.97 L571.6,310.02 L570.6,310.08 L569.6,310.15 L568.6,310.23 L567.6,310.32 L566.6,310.42 L565.6,310.51 L564.6,310.60 L563.6,310.69 L562.6,310.76 L561.6,310.82 L560.6,310.88 L559.6,310.93 L558.6,310.98 L557.6,311.02 L556.6,311.06 L555.6,311.10 L554.6,311.13 L553.6,311.16 L552.6,311.19 L551.6,311.21 L550.6,311.23 L549.6,311.25 L548.6,311.27 L547.6,311.28 L546.6,311.30 L545.6,311.31 L544.6,311.32 L543.6,311.32 L542.6,311.32 L541.6,311.32 L540.6,311.31 L539.6,311.29 L538.6,311.28 L537.6,311.26 L536.6,311.23 L535.6,311.20 L534.6,311.16 L533.6,311.12 L532.6,311.07 L531.6,311.01 L530.6,310.94 L529.6,310.87 L528.6,310.77 L527.6,310.66 L526.6,310.53 L525.6,310.40 L524.6,310.26 L523.6,310.12 L522.6,309.98 L521.6,309.85 L520.6,309.70 L519.6,309.55 L518.6,309.40 L517.6,309.25 L516.6,309.10 L515.6,308.97 L514.6,308.86 L513.6,308.77 L512.6,308.70 L511.6,308.66 L510.6,308.63 L509.6,308.60 L508.6,308.58 L507.6,308.56 L506.6,308.53 L505.6,308.48 L504.6,308.42 L503.6,308.36 L502.6,308.29 L501.6,308.22 L500.6,308.15 L499.6,308.09 L498.6,308.03 L497.6,307.98 L496.6,307.94 L495.6,307.89 L494.6,307.86 L493.6,307.82 L492.6,307.79 L491.6,307.75 L490.6,307.72 L489.6,307.69 L488.6,307.65 L487.6,307.62 L486.6,307.59 L485.6,307.56 L484.6,307.52 L483.6,307.48 L482.6,307.43 L481.6,307.37 L480.6,307.31 L479.6,307.26 L478.6,307.22 L477.6,307.20 L476.6,307.21 L475.6,307.25 L474.6,307.28 L473.6,307.31 L472.6,307.33 L471.6,307.35 L470.6,307.36 L469.6,307.38 L468.6,307.39 L467.6,307.40 L466.6,307.38 L465.6,307.39 L464.6,307.48 L463.6,307.63 L462.6,307.76 L461.6,307.81 L460.6,307.84 L459.6,307.87 L458.6,307.88 L457.6,307.89 L456.6,307.90 L455.6,307.90 L454.6,307.90 L453.6,307.90 L452.6,307.90 L451.6,307.90 L450.6,307.91 L449.6,307.92 L448.6,307.92 L447.6,307.93 L446.6,307.93 L445.6,307.91 L444.6,307.88 L443.6,307.84 L442.6,307.74 L441.6,307.45 L440.6,307.10Z" fill="#050505" opacity="1.0" stroke="#050505" stroke-width="0.3" stroke-linejoin="round"/>
<rect x="528.8" y="308" width="3.2" height="9.0" rx="1" fill="#080808"/>
<rect x="533.6" y="308" width="8.4" height="6.0" rx="1" fill="#080808"/>
<rect x="543.0" y="308" width="3.0" height="9.0" rx="1" fill="#080808"/>
<rect x="550.4" y="308" width="2.6" height="9.0" rx="1" fill="#080808"/>
<rect x="564.6" y="308" width="2.8" height="9.0" rx="1" fill="#080808"/>
<rect x="571.6" y="308" width="1.6" height="7.5" rx="1" fill="#080808"/>
<rect x="524.0" y="308" width="1.4" height="6.0" rx="1" fill="#080808"/>
<rect x="557.5" y="308" width="1.4" height="5.5" rx="1" fill="#080808"/>
</g>
</g>
<rect x="384.6" y="291.5" width="222.29999999999995" height="25.0" fill="none" stroke="#161616" stroke-width="1.3"/>
<clipPath id="cp6"><rect x="384.6" y="325.2" width="222.29999999999995" height="24.0"/></clipPath>
<rect x="384.6" y="325.2" width="222.29999999999995" height="24.0" fill="#c9c9c9"/>
<g clip-path="url(#cp6)">
<g filter="url(#b3)">
<rect x="380.0" y="322.0" width="232.0" height="9.0" fill="#d6d6d6" opacity="0.8"/>
<rect x="595.0" y="322.0" width="16.0" height="30.0" fill="#d0d0d0" opacity="0.8"/>
<rect x="396.0" y="342.0" width="16.0" height="8.0" fill="#b2b2b2" opacity="0.6"/>
<rect x="417.8" y="342.0" width="16.0" height="8.0" fill="#b2b2b2" opacity="0.6"/>
<rect x="440.0" y="342.0" width="16.0" height="8.0" fill="#b2b2b2" opacity="0.6"/>
<rect x="462.0" y="342.0" width="16.0" height="8.0" fill="#b2b2b2" opacity="0.6"/>
<rect x="483.0" y="342.0" width="16.0" height="8.0" fill="#b2b2b2" opacity="0.6"/>
<rect x="505.7" y="342.0" width="16.0" height="8.0" fill="#b2b2b2" opacity="0.6"/>
<rect x="528.0" y="342.0" width="16.0" height="8.0" fill="#b2b2b2" opacity="0.6"/>
<rect x="551.5" y="342.0" width="16.0" height="8.0" fill="#b2b2b2" opacity="0.6"/>
<rect x="573.8" y="342.0" width="16.0" height="8.0" fill="#b2b2b2" opacity="0.6"/>
<rect x="462.0" y="330.0" width="12.0" height="8.0" fill="#b8b8b8" opacity="0.5"/>
</g>
<g filter="url(#b05)">
<path d="M505.0,332.30 L505.5,332.20 L506.0,332.08 L506.5,331.99 L507.0,331.94 L507.5,331.91 L508.0,331.88 L508.5,331.86 L509.0,331.84 L509.5,331.83 L510.0,331.82 L510.5,331.81 L511.0,331.80 L511.5,331.80 L512.0,331.80 L512.5,331.80 L513.0,331.80 L513.5,331.80 L514.0,331.80 L514.5,331.80 L515.0,331.80 L515.5,331.81 L516.0,331.82 L516.5,331.83 L517.0,331.84 L517.5,331.86 L518.0,331.88 L518.5,331.91 L519.0,331.94 L519.5,331.99 L520.0,332.08 L520.5,332.20 L521.0,332.30 L521.0,332.50 L520.5,332.60 L520.0,332.72 L519.5,332.81 L519.0,332.86 L518.5,332.89 L518.0,332.92 L517.5,332.94 L517.0,332.96 L516.5,332.97 L516.0,332.98 L515.5,332.99 L515.0,333.00 L514.5,333.00 L514.0,333.00 L513.5,333.00 L513.0,333.00 L512.5,333.00 L512.0,333.00 L511.5,333.00 L511.0,333.00 L510.5,332.99 L510.0,332.98 L509.5,332.97 L509.0,332.96 L508.5,332.94 L508.0,332.92 L507.5,332.89 L507.0,332.86 L506.5,332.81 L506.0,332.72 L505.5,332.60 L505.0,332.50Z" fill="#9a9a9a" opacity="0.8" stroke="#9a9a9a" stroke-width="0.3" stroke-linejoin="round"/>
<path d="M393.6,339.78 L394.1,339.25 L394.6,338.70 L395.1,338.22 L395.6,337.90 L396.1,337.73 L396.6,337.65 L397.1,337.60 L397.6,337.53 L398.1,337.49 L398.6,337.46 L399.1,337.44 L399.6,337.42 L400.1,337.41 L400.6,337.41 L401.1,337.40 L401.6,337.40 L402.1,337.40 L402.6,337.40 L403.1,337.40 L403.6,337.40 L404.1,337.40 L404.6,337.40 L405.1,337.40 L405.6,337.40 L406.1,337.40 L406.6,337.40 L407.1,337.40 L407.6,337.40 L408.1,337.41 L408.6,337.41 L409.1,337.42 L409.6,337.44 L410.1,337.46 L410.6,337.49 L411.1,337.53 L411.6,337.60 L412.1,337.65 L412.6,337.73 L413.1,337.90 L413.6,338.22 L414.1,338.70 L414.6,339.25 L415.1,339.78 L415.1,340.42 L414.6,340.95 L414.1,341.50 L413.6,341.98 L413.1,342.30 L412.6,342.47 L412.1,342.55 L411.6,342.60 L411.1,342.67 L410.6,342.71 L410.1,342.74 L409.6,342.76 L409.1,342.78 L408.6,342.79 L408.1,342.79 L407.6,342.80 L407.1,342.80 L406.6,342.80 L406.1,342.80 L405.6,342.80 L405.1,342.80 L404.6,342.80 L404.1,342.80 L403.6,342.80 L403.1,342.80 L402.6,342.80 L402.1,342.80 L401.6,342.80 L401.1,342.80 L400.6,342.79 L400.1,342.79 L399.6,342.78 L399.1,342.76 L398.6,342.74 L398.1,342.71 L397.6,342.67 L397.1,342.60 L396.6,342.55 L396.1,342.47 L395.6,342.30 L395.1,341.98 L394.6,341.50 L394.1,340.95 L393.6,340.42Z" fill="#444444" opacity="1.0" stroke="#444444" stroke-width="0.3" stroke-linejoin="round"/>
<path d="M416.3,339.53 L416.8,339.02 L417.3,338.50 L417.8,338.09 L418.3,337.87 L418.8,337.77 L419.3,337.72 L419.8,337.65 L420.3,337.62 L420.8,337.59 L421.3,337.57 L421.8,337.56 L422.3,337.56 L422.8,337.55 L423.3,337.55 L423.8,337.55 L424.3,337.55 L424.8,337.55 L425.3,337.55 L425.8,337.55 L426.3,337.55 L426.8,337.55 L427.3,337.55 L427.8,337.55 L428.3,337.55 L428.8,337.56 L429.3,337.56 L429.8,337.57 L430.3,337.59 L430.8,337.61 L431.3,337.64 L431.8,337.70 L432.3,337.76 L432.8,337.84 L433.3,338.03 L433.8,338.41 L434.3,338.91 L434.8,339.43 L434.8,340.17 L434.3,340.69 L433.8,341.19 L433.3,341.57 L432.8,341.76 L432.3,341.84 L431.8,341.90 L431.3,341.96 L430.8,341.99 L430.3,342.01 L429.8,342.03 L429.3,342.04 L428.8,342.04 L428.3,342.05 L427.8,342.05 L427.3,342.05 L426.8,342.05 L426.3,342.05 L425.8,342.05 L425.3,342.05 L424.8,342.05 L424.3,342.05 L423.8,342.05 L423.3,342.05 L422.8,342.05 L422.3,342.04 L421.8,342.04 L421.3,342.03 L420.8,342.01 L420.3,341.98 L419.8,341.95 L419.3,341.88 L418.8,341.83 L418.3,341.73 L417.8,341.51 L417.3,341.10 L416.8,340.58 L416.3,340.07Z" fill="#444444" opacity="1.0" stroke="#444444" stroke-width="0.3" stroke-linejoin="round"/>
<path d="M437.3,339.65 L437.8,339.25 L438.3,338.83 L438.8,338.47 L439.3,338.21 L439.8,338.07 L440.3,338.01 L440.8,337.96 L441.3,337.91 L441.8,337.87 L442.3,337.85 L442.8,337.83 L443.3,337.82 L443.8,337.81 L444.3,337.81 L444.8,337.80 L445.3,337.80 L445.8,337.80 L446.3,337.80 L446.8,337.80 L447.3,337.80 L447.8,337.80 L448.3,337.80 L448.8,337.80 L449.3,337.80 L449.8,337.80 L450.3,337.80 L450.8,337.80 L451.3,337.80 L451.8,337.80 L452.3,337.81 L452.8,337.81 L453.3,337.82 L453.8,337.83 L454.3,337.85 L454.8,337.87 L455.3,337.90 L455.8,337.95 L456.3,338.00 L456.8,338.05 L457.3,338.17 L457.8,338.40 L458.3,338.75 L458.8,339.16 L459.3,339.57 L459.3,340.23 L458.8,340.64 L458.3,341.05 L457.8,341.40 L457.3,341.63 L456.8,341.75 L456.3,341.80 L455.8,341.85 L455.3,341.90 L454.8,341.93 L454.3,341.95 L453.8,341.97 L453.3,341.98 L452.8,341.99 L452.3,341.99 L451.8,342.00 L451.3,342.00 L450.8,342.00 L450.3,342.00 L449.8,342.00 L449.3,342.00 L448.8,342.00 L448.3,342.00 L447.8,342.00 L447.3,342.00 L446.8,342.00 L446.3,342.00 L445.8,342.00 L445.3,342.00 L444.8,342.00 L444.3,341.99 L443.8,341.99 L443.3,341.98 L442.8,341.97 L442.3,341.95 L441.8,341.93 L441.3,341.89 L440.8,341.84 L440.3,341.79 L439.8,341.73 L439.3,341.59 L438.8,341.33 L438.3,340.97 L437.8,340.55 L437.3,340.15Z" fill="#444444" opacity="1.0" stroke="#444444" stroke-width="0.3" stroke-linejoin="round"/>
<path d="M460.6,339.26 L461.1,338.65 L461.6,338.02 L462.1,337.51 L462.6,337.22 L463.1,337.09 L463.6,337.02 L464.1,336.94 L464.6,336.89 L465.1,336.86 L465.6,336.83 L466.1,336.82 L466.6,336.81 L467.1,336.80 L467.6,336.80 L468.1,336.80 L468.6,336.80 L469.1,336.80 L469.6,336.80 L470.1,336.80 L470.6,336.80 L471.1,336.80 L471.6,336.80 L472.1,336.80 L472.6,336.80 L473.1,336.80 L473.6,336.81 L474.1,336.81 L474.6,336.83 L475.1,336.85 L475.6,336.88 L476.1,336.92 L476.6,336.99 L477.1,337.06 L477.6,337.15 L478.1,337.37 L478.6,337.79 L479.1,338.39 L479.6,339.03 L479.6,340.17 L479.1,340.81 L478.6,341.41 L478.1,341.83 L477.6,342.05 L477.1,342.14 L476.6,342.21 L476.1,342.28 L475.6,342.32 L475.1,342.35 L474.6,342.37 L474.1,342.39 L473.6,342.39 L473.1,342.40 L472.6,342.40 L472.1,342.40 L471.6,342.40 L471.1,342.40 L470.6,342.40 L470.1,342.40 L469.6,342.40 L469.1,342.40 L468.6,342.40 L468.1,342.40 L467.6,342.40 L467.1,342.40 L466.6,342.39 L466.1,342.38 L465.6,342.37 L465.1,342.34 L464.6,342.31 L464.1,342.26 L463.6,342.18 L463.1,342.11 L462.6,341.98 L462.1,341.69 L461.6,341.18 L461.1,340.55 L460.6,339.94Z" fill="#444444" opacity="1.0" stroke="#444444" stroke-width="0.3" stroke-linejoin="round"/>
<path d="M480.4,340.06 L480.9,339.50 L481.4,338.91 L481.9,338.41 L482.4,338.09 L482.9,337.93 L483.4,337.85 L483.9,337.79 L484.4,337.72 L484.9,337.68 L485.4,337.65 L485.9,337.63 L486.4,337.62 L486.9,337.61 L487.4,337.60 L487.9,337.60 L488.4,337.60 L488.9,337.60 L489.4,337.60 L489.9,337.60 L490.4,337.60 L490.9,337.60 L491.4,337.60 L491.9,337.60 L492.4,337.60 L492.9,337.60 L493.4,337.60 L493.9,337.60 L494.4,337.61 L494.9,337.61 L495.4,337.62 L495.9,337.64 L496.4,337.66 L496.9,337.69 L497.4,337.74 L497.9,337.82 L498.4,337.88 L498.9,337.98 L499.4,338.19 L499.9,338.59 L500.4,339.14 L500.9,339.73 L500.9,341.07 L500.4,341.66 L499.9,342.21 L499.4,342.61 L498.9,342.82 L498.4,342.92 L497.9,342.98 L497.4,343.06 L496.9,343.11 L496.4,343.14 L495.9,343.16 L495.4,343.18 L494.9,343.19 L494.4,343.19 L493.9,343.20 L493.4,343.20 L492.9,343.20 L492.4,343.20 L491.9,343.20 L491.4,343.20 L490.9,343.20 L490.4,343.20 L489.9,343.20 L489.4,343.20 L488.9,343.20 L488.4,343.20 L487.9,343.20 L487.4,343.20 L486.9,343.19 L486.4,343.18 L485.9,343.17 L485.4,343.15 L484.9,343.12 L484.4,343.08 L483.9,343.01 L483.4,342.95 L482.9,342.87 L482.4,342.71 L481.9,342.39 L481.4,341.89 L480.9,341.30 L480.4,340.74Z" fill="#444444" opacity="1.0" stroke="#444444" stroke-width="0.3" stroke-linejoin="round"/>
<path d="M503.0,339.53 L503.5,338.92 L504.0,338.29 L504.5,337.74 L505.0,337.37 L505.5,337.18 L506.0,337.09 L506.5,337.03 L507.0,336.95 L507.5,336.90 L508.0,336.87 L508.5,336.84 L509.0,336.82 L509.5,336.81 L510.0,336.81 L510.5,336.80 L511.0,336.80 L511.5,336.80 L512.0,336.80 L512.5,336.80 L513.0,336.80 L513.5,336.80 L514.0,336.80 L514.5,336.80 L515.0,336.80 L515.5,336.80 L516.0,336.80 L516.5,336.80 L517.0,336.80 L517.5,336.81 L518.0,336.81 L518.5,336.82 L519.0,336.84 L519.5,336.87 L520.0,336.90 L520.5,336.95 L521.0,337.03 L521.5,337.09 L522.0,337.18 L522.5,337.37 L523.0,337.74 L523.5,338.29 L524.0,338.92 L524.5,339.53 L524.5,340.27 L524.0,340.88 L523.5,341.51 L523.0,342.06 L522.5,342.43 L522.0,342.62 L521.5,342.71 L521.0,342.77 L520.5,342.85 L520.0,342.90 L519.5,342.93 L519.0,342.96 L518.5,342.98 L518.0,342.99 L517.5,342.99 L517.0,343.00 L516.5,343.00 L516.0,343.00 L515.5,343.00 L515.0,343.00 L514.5,343.00 L514.0,343.00 L513.5,343.00 L513.0,343.00 L512.5,343.00 L512.0,343.00 L511.5,343.00 L511.0,343.00 L510.5,343.00 L510.0,342.99 L509.5,342.99 L509.0,342.98 L508.5,342.96 L508.0,342.93 L507.5,342.90 L507.0,342.85 L506.5,342.77 L506.0,342.71 L505.5,342.62 L505.0,342.43 L504.5,342.06 L504.0,341.51 L503.5,340.88 L503.0,340.27Z" fill="#444444" opacity="1.0" stroke="#444444" stroke-width="0.3" stroke-linejoin="round"/>
<path d="M525.7,340.15 L526.2,339.71 L526.7,339.27 L527.2,338.89 L527.7,338.65 L528.2,338.54 L528.7,338.48 L529.2,338.43 L529.7,338.38 L530.2,338.36 L530.7,338.34 L531.2,338.32 L531.7,338.31 L532.2,338.31 L532.7,338.30 L533.2,338.30 L533.7,338.30 L534.2,338.30 L534.7,338.30 L535.2,338.30 L535.7,338.30 L536.2,338.30 L536.7,338.30 L537.2,338.30 L537.7,338.30 L538.2,338.30 L538.7,338.30 L539.2,338.30 L539.7,338.31 L540.2,338.31 L540.7,338.32 L541.2,338.34 L541.7,338.36 L542.2,338.39 L542.7,338.44 L543.2,338.49 L543.7,338.55 L544.2,338.69 L544.7,338.96 L545.2,339.35 L545.7,339.80 L545.7,341.00 L545.2,341.45 L544.7,341.84 L544.2,342.11 L543.7,342.25 L543.2,342.31 L542.7,342.36 L542.2,342.41 L541.7,342.44 L541.2,342.46 L540.7,342.48 L540.2,342.49 L539.7,342.49 L539.2,342.50 L538.7,342.50 L538.2,342.50 L537.7,342.50 L537.2,342.50 L536.7,342.50 L536.2,342.50 L535.7,342.50 L535.2,342.50 L534.7,342.50 L534.2,342.50 L533.7,342.50 L533.2,342.50 L532.7,342.50 L532.2,342.49 L531.7,342.49 L531.2,342.48 L530.7,342.46 L530.2,342.44 L529.7,342.42 L529.2,342.37 L528.7,342.32 L528.2,342.26 L527.7,342.15 L527.2,341.91 L526.7,341.53 L526.2,341.09 L525.7,340.65Z" fill="#444444" opacity="1.0" stroke="#444444" stroke-width="0.3" stroke-linejoin="round"/>
<path d="M547.9,340.02 L548.4,339.42 L548.9,338.81 L549.4,338.25 L549.9,337.86 L550.4,337.63 L550.9,337.52 L551.4,337.46 L551.9,337.38 L552.4,337.32 L552.9,337.29 L553.4,337.26 L553.9,337.24 L554.4,337.22 L554.9,337.21 L555.4,337.21 L555.9,337.20 L556.4,337.20 L556.9,337.20 L557.4,337.20 L557.9,337.20 L558.4,337.20 L558.9,337.20 L559.4,337.20 L559.9,337.20 L560.4,337.20 L560.9,337.20 L561.4,337.20 L561.9,337.20 L562.4,337.20 L562.9,337.20 L563.4,337.21 L563.9,337.22 L564.4,337.23 L564.9,337.25 L565.4,337.28 L565.9,337.31 L566.4,337.36 L566.9,337.43 L567.4,337.50 L567.9,337.58 L568.4,337.75 L568.9,338.07 L569.4,338.57 L569.9,339.17 L570.4,339.79 L570.4,341.01 L569.9,341.63 L569.4,342.23 L568.9,342.73 L568.4,343.05 L567.9,343.22 L567.4,343.30 L566.9,343.37 L566.4,343.44 L565.9,343.49 L565.4,343.52 L564.9,343.55 L564.4,343.57 L563.9,343.58 L563.4,343.59 L562.9,343.60 L562.4,343.60 L561.9,343.60 L561.4,343.60 L560.9,343.60 L560.4,343.60 L559.9,343.60 L559.4,343.60 L558.9,343.60 L558.4,343.60 L557.9,343.60 L557.4,343.60 L556.9,343.60 L556.4,343.60 L555.9,343.60 L555.4,343.59 L554.9,343.59 L554.4,343.58 L553.9,343.56 L553.4,343.54 L552.9,343.51 L552.4,343.48 L551.9,343.42 L551.4,343.34 L550.9,343.28 L550.4,343.17 L549.9,342.94 L549.4,342.55 L548.9,341.99 L548.4,341.38 L547.9,340.78Z" fill="#444444" opacity="1.0" stroke="#444444" stroke-width="0.3" stroke-linejoin="round"/>
<path d="M570.6,340.38 L571.1,339.86 L571.6,339.33 L572.1,338.86 L572.6,338.53 L573.1,338.35 L573.6,338.27 L574.1,338.21 L574.6,338.14 L575.1,338.10 L575.6,338.07 L576.1,338.04 L576.6,338.03 L577.1,338.02 L577.6,338.01 L578.1,338.00 L578.6,338.00 L579.1,338.00 L579.6,338.00 L580.1,338.00 L580.6,338.00 L581.1,338.00 L581.6,338.00 L582.1,338.00 L582.6,338.00 L583.1,338.00 L583.6,338.00 L584.1,338.00 L584.6,338.00 L585.1,338.00 L585.6,338.01 L586.1,338.01 L586.6,338.02 L587.1,338.04 L587.6,338.06 L588.1,338.08 L588.6,338.12 L589.1,338.18 L589.6,338.24 L590.1,338.31 L590.6,338.44 L591.1,338.71 L591.6,339.13 L592.1,339.65 L592.6,340.18 L592.6,341.22 L592.1,341.75 L591.6,342.27 L591.1,342.69 L590.6,342.96 L590.1,343.09 L589.6,343.16 L589.1,343.22 L588.6,343.28 L588.1,343.32 L587.6,343.34 L587.1,343.36 L586.6,343.38 L586.1,343.39 L585.6,343.39 L585.1,343.40 L584.6,343.40 L584.1,343.40 L583.6,343.40 L583.1,343.40 L582.6,343.40 L582.1,343.40 L581.6,343.40 L581.1,343.40 L580.6,343.40 L580.1,343.40 L579.6,343.40 L579.1,343.40 L578.6,343.40 L578.1,343.40 L577.6,343.39 L577.1,343.38 L576.6,343.37 L576.1,343.36 L575.6,343.33 L575.1,343.30 L574.6,343.26 L574.1,343.19 L573.6,343.13 L573.1,343.05 L572.6,342.87 L572.1,342.54 L571.6,342.07 L571.1,341.54 L570.6,341.02Z" fill="#444444" opacity="1.0" stroke="#444444" stroke-width="0.3" stroke-linejoin="round"/>
</g>
</g>
<rect x="384.6" y="325.2" width="222.29999999999995" height="24.0" fill="none" stroke="#161616" stroke-width="1.3"/>
<clipPath id="cp7"><rect x="384.6" y="357.9" width="222.29999999999995" height="24.5"/></clipPath>
<rect x="384.6" y="357.9" width="222.29999999999995" height="24.5" fill="#e0e0e0"/>
<g clip-path="url(#cp7)">
<g filter="url(#b3)">
<rect x="380.0" y="354.0" width="18.0" height="32.0" fill="#f0f0f0" opacity="0.9"/>
<rect x="420.0" y="362.0" width="180.0" height="8.0" fill="#cecece" opacity="0.6"/>
<rect x="531.0" y="362.0" width="17.0" height="10.0" fill="#9c9c9c" opacity="0.6"/>
<rect x="554.0" y="364.0" width="19.0" height="8.0" fill="#a4a4a4" opacity="0.6"/>
<rect x="577.0" y="360.0" width="18.0" height="9.0" fill="#b0b0b0" opacity="0.6"/>
</g>
<g filter="url(#b1)">
<path d="M553.6,366.20 L554.1,366.08 L554.6,365.94 L555.1,365.84 L555.6,365.77 L556.1,365.74 L556.6,365.71 L557.1,365.68 L557.6,365.66 L558.1,365.64 L558.6,365.63 L559.1,365.62 L559.6,365.61 L560.1,365.61 L560.6,365.60 L561.1,365.60 L561.6,365.60 L562.1,365.60 L562.6,365.60 L563.1,365.60 L563.6,365.60 L564.1,365.60 L564.6,365.61 L565.1,365.61 L565.6,365.62 L566.1,365.63 L566.6,365.64 L567.1,365.66 L567.6,365.68 L568.1,365.71 L568.6,365.74 L569.1,365.78 L569.6,365.85 L570.1,365.97 L570.6,366.11 L570.6,366.49 L570.1,366.63 L569.6,366.75 L569.1,366.82 L568.6,366.86 L568.1,366.89 L567.6,366.92 L567.1,366.94 L566.6,366.96 L566.1,366.97 L565.6,366.98 L565.1,366.99 L564.6,366.99 L564.1,367.00 L563.6,367.00 L563.1,367.00 L562.6,367.00 L562.1,367.00 L561.6,367.00 L561.1,367.00 L560.6,367.00 L560.1,366.99 L559.6,366.99 L559.1,366.98 L558.6,366.97 L558.1,366.96 L557.6,366.94 L557.1,366.92 L556.6,366.89 L556.1,366.86 L555.6,366.83 L555.1,366.76 L554.6,366.66 L554.1,366.52 L553.6,366.40Z" fill="#7a7a7a" opacity="0.9" stroke="#7a7a7a" stroke-width="0.3" stroke-linejoin="round"/>
<path d="M577.0,366.10 L577.5,365.99 L578.0,365.85 L578.5,365.77 L579.0,365.72 L579.5,365.69 L580.0,365.66 L580.5,365.64 L581.0,365.63 L581.5,365.62 L582.0,365.61 L582.5,365.60 L583.0,365.60 L583.5,365.60 L584.0,365.60 L584.5,365.60 L585.0,365.60 L585.5,365.60 L586.0,365.60 L586.5,365.61 L587.0,365.62 L587.5,365.63 L588.0,365.64 L588.5,365.66 L589.0,365.69 L589.5,365.72 L590.0,365.77 L590.5,365.85 L591.0,365.99 L591.5,366.10 L591.5,366.30 L591.0,366.41 L590.5,366.55 L590.0,366.63 L589.5,366.68 L589.0,366.71 L588.5,366.74 L588.0,366.76 L587.5,366.77 L587.0,366.78 L586.5,366.79 L586.0,366.80 L585.5,366.80 L585.0,366.80 L584.5,366.80 L584.0,366.80 L583.5,366.80 L583.0,366.80 L582.5,366.80 L582.0,366.79 L581.5,366.78 L581.0,366.77 L580.5,366.76 L580.0,366.74 L579.5,366.71 L579.0,366.68 L578.5,366.63 L578.0,366.55 L577.5,366.41 L577.0,366.30Z" fill="#999999" opacity="0.9" stroke="#999999" stroke-width="0.3" stroke-linejoin="round"/>
<ellipse cx="601.0" cy="371.8" rx="1.2" ry="2.0" fill="#aaaaaa" opacity="0.8"/>
</g>
<g filter="url(#b0)">
<path d="M398.0,375.00 L399.0,374.88 L400.0,374.77 L401.0,374.65 L402.0,374.53 L403.0,374.42 L404.0,374.30 L405.0,374.18 L406.0,374.05 L407.0,373.91 L408.0,373.79 L409.0,373.68 L410.0,373.60 L411.0,373.54 L412.0,373.50 L413.0,373.51 L414.0,373.60 L415.0,373.89 L416.0,374.32 L416.0,375.28 L415.0,375.70 L414.0,376.00 L413.0,376.13 L412.0,376.20 L411.0,376.22 L410.0,376.20 L409.0,376.15 L408.0,376.07 L407.0,375.98 L406.0,375.88 L405.0,375.78 L404.0,375.70 L403.0,375.64 L402.0,375.59 L401.0,375.54 L400.0,375.49 L399.0,375.45 L398.0,375.40Z" fill="#111111" opacity="1.0" stroke="#111111" stroke-width="0.3" stroke-linejoin="round"/>
<path d="M419.6,373.43 L420.1,372.77 L420.6,372.10 L421.1,371.52 L421.6,371.13 L422.1,370.89 L422.6,370.73 L423.1,370.58 L423.6,370.44 L424.1,370.34 L424.6,370.25 L425.1,370.18 L425.6,370.13 L426.1,370.09 L426.6,370.05 L427.1,370.03 L427.6,370.02 L428.1,370.01 L428.6,370.00 L429.1,370.00 L429.6,370.00 L430.1,370.00 L430.6,370.00 L431.1,370.01 L431.6,370.02 L432.1,370.03 L432.6,370.05 L433.1,370.09 L433.6,370.13 L434.1,370.18 L434.6,370.25 L435.1,370.34 L435.6,370.44 L436.1,370.58 L436.6,370.73 L437.1,370.89 L437.6,371.13 L438.1,371.52 L438.6,372.10 L439.1,372.77 L439.6,373.43 L439.6,374.37 L439.1,375.03 L438.6,375.70 L438.1,376.28 L437.6,376.67 L437.1,376.91 L436.6,377.07 L436.1,377.22 L435.6,377.36 L435.1,377.46 L434.6,377.55 L434.1,377.62 L433.6,377.67 L433.1,377.71 L432.6,377.75 L432.1,377.77 L431.6,377.78 L431.1,377.79 L430.6,377.80 L430.1,377.80 L429.6,377.80 L429.1,377.80 L428.6,377.80 L428.1,377.79 L427.6,377.78 L427.1,377.77 L426.6,377.75 L426.1,377.71 L425.6,377.67 L425.1,377.62 L424.6,377.55 L424.1,377.46 L423.6,377.36 L423.1,377.22 L422.6,377.07 L422.1,376.91 L421.6,376.67 L421.1,376.28 L420.6,375.70 L420.1,375.03 L419.6,374.37Z" fill="#050505" opacity="1.0" stroke="#050505" stroke-width="0.3" stroke-linejoin="round"/>
<path d="M439.2,374.63 L439.7,374.31 L440.2,373.98 L440.7,373.67 L441.2,373.43 L441.7,373.26 L442.2,373.16 L442.7,373.08 L443.2,373.00 L443.7,372.93 L444.2,372.88 L444.7,372.83 L445.2,372.79 L445.7,372.75 L446.2,372.73 L446.7,372.71 L447.2,372.69 L447.7,372.67 L448.2,372.67 L448.7,372.66 L449.2,372.65 L449.7,372.65 L450.2,372.65 L450.7,372.65 L451.2,372.65 L451.7,372.65 L452.2,372.65 L452.7,372.65 L453.2,372.66 L453.7,372.66 L454.2,372.67 L454.7,372.68 L455.2,372.70 L455.7,372.72 L456.2,372.75 L456.7,372.78 L457.2,372.82 L457.7,372.87 L458.2,372.92 L458.7,372.99 L459.2,373.06 L459.7,373.14 L460.2,373.24 L460.7,373.39 L461.2,373.61 L461.7,373.91 L462.2,374.24 L462.7,374.57 L462.7,375.23 L462.2,375.56 L461.7,375.89 L461.2,376.19 L460.7,376.41 L460.2,376.56 L459.7,376.66 L459.2,376.74 L458.7,376.81 L458.2,376.88 L457.7,376.93 L457.2,376.98 L456.7,377.02 L456.2,377.05 L455.7,377.08 L455.2,377.10 L454.7,377.12 L454.2,377.13 L453.7,377.14 L453.2,377.14 L452.7,377.15 L452.2,377.15 L451.7,377.15 L451.2,377.15 L450.7,377.15 L450.2,377.15 L449.7,377.15 L449.2,377.15 L448.7,377.14 L448.2,377.13 L447.7,377.13 L447.2,377.11 L446.7,377.09 L446.2,377.07 L445.7,377.05 L445.2,377.01 L444.7,376.97 L444.2,376.92 L443.7,376.87 L443.2,376.80 L442.7,376.72 L442.2,376.64 L441.7,376.54 L441.2,376.37 L440.7,376.13 L440.2,375.82 L439.7,375.49 L439.2,375.17Z" fill="#080808" opacity="1.0" stroke="#080808" stroke-width="0.3" stroke-linejoin="round"/>
<path d="M462.0,373.88 L462.5,373.47 L463.0,373.05 L463.5,372.67 L464.0,372.38 L464.5,372.20 L465.0,372.08 L465.5,371.98 L466.0,371.88 L466.5,371.80 L467.0,371.74 L467.5,371.68 L468.0,371.64 L468.5,371.60 L469.0,371.57 L469.5,371.55 L470.0,371.53 L470.5,371.52 L471.0,371.51 L471.5,371.50 L472.0,371.50 L472.5,371.50 L473.0,371.50 L473.5,371.50 L474.0,371.50 L474.5,371.50 L475.0,371.51 L475.5,371.51 L476.0,371.52 L476.5,371.53 L477.0,371.55 L477.5,371.58 L478.0,371.61 L478.5,371.65 L479.0,371.70 L479.5,371.75 L480.0,371.82 L480.5,371.90 L481.0,372.00 L481.5,372.10 L482.0,372.23 L482.5,372.43 L483.0,372.74 L483.5,373.13 L484.0,373.55 L484.0,374.85 L483.5,375.27 L483.0,375.66 L482.5,375.97 L482.0,376.17 L481.5,376.30 L481.0,376.40 L480.5,376.50 L480.0,376.58 L479.5,376.65 L479.0,376.70 L478.5,376.75 L478.0,376.79 L477.5,376.82 L477.0,376.85 L476.5,376.87 L476.0,376.88 L475.5,376.89 L475.0,376.89 L474.5,376.90 L474.0,376.90 L473.5,376.90 L473.0,376.90 L472.5,376.90 L472.0,376.90 L471.5,376.90 L471.0,376.89 L470.5,376.88 L470.0,376.87 L469.5,376.85 L469.0,376.83 L468.5,376.80 L468.0,376.76 L467.5,376.72 L467.0,376.66 L466.5,376.60 L466.0,376.52 L465.5,376.42 L465.0,376.32 L464.5,376.20 L464.0,376.02 L463.5,375.73 L463.0,375.35 L462.5,374.93 L462.0,374.52Z" fill="#080808" opacity="1.0" stroke="#080808" stroke-width="0.3" stroke-linejoin="round"/>
<path d="M484.2,373.93 L484.7,373.56 L485.2,373.18 L485.7,372.84 L486.2,372.62 L486.7,372.48 L487.2,372.38 L487.7,372.29 L488.2,372.22 L488.7,372.16 L489.2,372.10 L489.7,372.06 L490.2,372.03 L490.7,372.00 L491.2,371.98 L491.7,371.97 L492.2,371.96 L492.7,371.96 L493.2,371.95 L493.7,371.95 L494.2,371.95 L494.7,371.95 L495.2,371.95 L495.7,371.95 L496.2,371.96 L496.7,371.96 L497.2,371.97 L497.7,371.99 L498.2,372.01 L498.7,372.04 L499.2,372.07 L499.7,372.11 L500.2,372.17 L500.7,372.23 L501.2,372.31 L501.7,372.40 L502.2,372.50 L502.7,372.65 L503.2,372.90 L503.7,373.25 L504.2,373.63 L504.2,374.77 L503.7,375.15 L503.2,375.50 L502.7,375.75 L502.2,375.90 L501.7,376.00 L501.2,376.09 L500.7,376.17 L500.2,376.23 L499.7,376.29 L499.2,376.33 L498.7,376.36 L498.2,376.39 L497.7,376.41 L497.2,376.43 L496.7,376.44 L496.2,376.44 L495.7,376.45 L495.2,376.45 L494.7,376.45 L494.2,376.45 L493.7,376.45 L493.2,376.45 L492.7,376.44 L492.2,376.44 L491.7,376.43 L491.2,376.42 L490.7,376.40 L490.2,376.37 L489.7,376.34 L489.2,376.30 L488.7,376.24 L488.2,376.18 L487.7,376.11 L487.2,376.02 L486.7,375.92 L486.2,375.78 L485.7,375.56 L485.2,375.22 L484.7,374.84 L484.2,374.47Z" fill="#080808" opacity="1.0" stroke="#080808" stroke-width="0.3" stroke-linejoin="round"/>
<path d="M505.6,374.05 L506.1,373.72 L506.6,373.38 L507.1,373.08 L507.6,372.86 L508.1,372.72 L508.6,372.63 L509.1,372.55 L509.6,372.48 L510.1,372.42 L510.6,372.37 L511.1,372.33 L511.6,372.29 L512.1,372.27 L512.6,372.25 L513.1,372.23 L513.6,372.22 L514.1,372.21 L514.6,372.20 L515.1,372.20 L515.6,372.20 L516.1,372.20 L516.6,372.20 L517.1,372.20 L517.6,372.20 L518.1,372.20 L518.6,372.21 L519.1,372.22 L519.6,372.23 L520.1,372.24 L520.6,372.26 L521.1,372.29 L521.6,372.32 L522.1,372.36 L522.6,372.41 L523.1,372.46 L523.6,372.54 L524.1,372.62 L524.6,372.70 L525.1,372.83 L525.6,373.03 L526.1,373.32 L526.6,373.65 L527.1,373.99 L527.1,374.61 L526.6,374.95 L526.1,375.28 L525.6,375.57 L525.1,375.77 L524.6,375.90 L524.1,375.98 L523.6,376.06 L523.1,376.14 L522.6,376.19 L522.1,376.24 L521.6,376.28 L521.1,376.31 L520.6,376.34 L520.1,376.36 L519.6,376.37 L519.1,376.38 L518.6,376.39 L518.1,376.40 L517.6,376.40 L517.1,376.40 L516.6,376.40 L516.1,376.40 L515.6,376.40 L515.1,376.40 L514.6,376.40 L514.1,376.39 L513.6,376.38 L513.1,376.37 L512.6,376.35 L512.1,376.33 L511.6,376.31 L511.1,376.27 L510.6,376.23 L510.1,376.18 L509.6,376.12 L509.1,376.05 L508.6,375.97 L508.1,375.88 L507.6,375.74 L507.1,375.52 L506.6,375.22 L506.1,374.88 L505.6,374.55Z" fill="#080808" opacity="1.0" stroke="#080808" stroke-width="0.3" stroke-linejoin="round"/>
<path d="M530.2,373.78 L530.7,373.45 L531.2,373.12 L531.7,372.84 L532.2,372.66 L532.7,372.56 L533.2,372.48 L533.7,372.40 L534.2,372.34 L534.7,372.29 L535.2,372.25 L535.7,372.22 L536.2,372.20 L536.7,372.18 L537.2,372.17 L537.7,372.16 L538.2,372.15 L538.7,372.15 L539.2,372.15 L539.7,372.15 L540.2,372.15 L540.7,372.15 L541.2,372.15 L541.7,372.16 L542.2,372.16 L542.7,372.18 L543.2,372.19 L543.7,372.21 L544.2,372.24 L544.7,372.28 L545.2,372.32 L545.7,372.38 L546.2,372.45 L546.7,372.52 L547.2,372.61 L547.7,372.76 L548.2,373.00 L548.7,373.32 L549.2,373.65 L549.2,374.35 L548.7,374.68 L548.2,375.00 L547.7,375.24 L547.2,375.39 L546.7,375.48 L546.2,375.55 L545.7,375.62 L545.2,375.68 L544.7,375.72 L544.2,375.76 L543.7,375.79 L543.2,375.81 L542.7,375.82 L542.2,375.84 L541.7,375.84 L541.2,375.85 L540.7,375.85 L540.2,375.85 L539.7,375.85 L539.2,375.85 L538.7,375.85 L538.2,375.85 L537.7,375.84 L537.2,375.83 L536.7,375.82 L536.2,375.80 L535.7,375.78 L535.2,375.75 L534.7,375.71 L534.2,375.66 L533.7,375.60 L533.2,375.52 L532.7,375.44 L532.2,375.34 L531.7,375.16 L531.2,374.88 L530.7,374.55 L530.2,374.22Z" fill="#080808" opacity="1.0" stroke="#080808" stroke-width="0.3" stroke-linejoin="round"/>
<path d="M552.4,374.33 L552.9,373.86 L553.4,373.38 L553.9,372.94 L554.4,372.61 L554.9,372.40 L555.4,372.26 L555.9,372.15 L556.4,372.04 L556.9,371.95 L557.4,371.87 L557.9,371.81 L558.4,371.76 L558.9,371.72 L559.4,371.68 L559.9,371.66 L560.4,371.64 L560.9,371.62 L561.4,371.61 L561.9,371.60 L562.4,371.60 L562.9,371.60 L563.4,371.60 L563.9,371.60 L564.4,371.60 L564.9,371.60 L565.4,371.61 L565.9,371.61 L566.4,371.62 L566.9,371.64 L567.4,371.66 L567.9,371.69 L568.4,371.72 L568.9,371.77 L569.4,371.82 L569.9,371.89 L570.4,371.96 L570.9,372.06 L571.4,372.17 L571.9,372.28 L572.4,372.43 L572.9,372.67 L573.4,373.02 L573.9,373.47 L574.4,373.96 L574.4,375.44 L573.9,375.93 L573.4,376.38 L572.9,376.73 L572.4,376.97 L571.9,377.12 L571.4,377.23 L570.9,377.34 L570.4,377.44 L569.9,377.51 L569.4,377.58 L568.9,377.63 L568.4,377.68 L567.9,377.71 L567.4,377.74 L566.9,377.76 L566.4,377.78 L565.9,377.79 L565.4,377.79 L564.9,377.80 L564.4,377.80 L563.9,377.80 L563.4,377.80 L562.9,377.80 L562.4,377.80 L561.9,377.80 L561.4,377.79 L560.9,377.78 L560.4,377.76 L559.9,377.74 L559.4,377.72 L558.9,377.68 L558.4,377.64 L557.9,377.59 L557.4,377.53 L556.9,377.45 L556.4,377.36 L555.9,377.25 L555.4,377.14 L554.9,377.00 L554.4,376.79 L553.9,376.46 L553.4,376.02 L552.9,375.54 L552.4,375.07Z" fill="#050505" opacity="1.0" stroke="#050505" stroke-width="0.3" stroke-linejoin="round"/>
<path d="M573.6,372.32 L574.1,371.65 L574.6,370.94 L575.1,370.29 L575.6,369.77 L576.1,369.42 L576.6,369.19 L577.1,369.02 L577.6,368.86 L578.1,368.71 L578.6,368.59 L579.1,368.49 L579.6,368.40 L580.1,368.33 L580.6,368.27 L581.1,368.22 L581.6,368.18 L582.1,368.15 L582.6,368.13 L583.1,368.12 L583.6,368.11 L584.1,368.10 L584.6,368.10 L585.1,368.10 L585.6,368.10 L586.1,368.10 L586.6,368.10 L587.1,368.10 L587.6,368.11 L588.1,368.13 L588.6,368.14 L589.1,368.17 L589.6,368.20 L590.1,368.24 L590.6,368.29 L591.1,368.35 L591.6,368.44 L592.1,368.53 L592.6,368.63 L593.1,368.77 L593.6,368.93 L594.1,369.09 L594.6,369.27 L595.1,369.54 L595.6,369.96 L596.1,370.54 L596.6,371.22 L597.1,371.92 L597.1,373.88 L596.6,374.58 L596.1,375.26 L595.6,375.84 L595.1,376.26 L594.6,376.53 L594.1,376.71 L593.6,376.87 L593.1,377.03 L592.6,377.17 L592.1,377.27 L591.6,377.36 L591.1,377.45 L590.6,377.51 L590.1,377.56 L589.6,377.60 L589.1,377.63 L588.6,377.66 L588.1,377.67 L587.6,377.69 L587.1,377.70 L586.6,377.70 L586.1,377.70 L585.6,377.70 L585.1,377.70 L584.6,377.70 L584.1,377.70 L583.6,377.69 L583.1,377.68 L582.6,377.67 L582.1,377.65 L581.6,377.62 L581.1,377.58 L580.6,377.53 L580.1,377.47 L579.6,377.40 L579.1,377.31 L578.6,377.21 L578.1,377.09 L577.6,376.94 L577.1,376.78 L576.6,376.61 L576.1,376.38 L575.6,376.03 L575.1,375.51 L574.6,374.86 L574.1,374.15 L573.6,373.48Z" fill="#040404" opacity="1.0" stroke="#040404" stroke-width="0.3" stroke-linejoin="round"/>
<path d="M532.2,364.90 L532.7,364.73 L533.2,364.56 L533.7,364.44 L534.2,364.38 L534.7,364.34 L535.2,364.30 L535.7,364.27 L536.2,364.25 L536.7,364.23 L537.2,364.22 L537.7,364.21 L538.2,364.21 L538.7,364.20 L539.2,364.20 L539.7,364.20 L540.2,364.20 L540.7,364.20 L541.2,364.20 L541.7,364.20 L542.2,364.21 L542.7,364.21 L543.2,364.22 L543.7,364.24 L544.2,364.26 L544.7,364.28 L545.2,364.32 L545.7,364.36 L546.2,364.40 L546.7,364.48 L547.2,364.63 L547.7,364.80 L547.7,365.20 L547.2,365.37 L546.7,365.52 L546.2,365.60 L545.7,365.64 L545.2,365.68 L544.7,365.72 L544.2,365.74 L543.7,365.76 L543.2,365.78 L542.7,365.79 L542.2,365.79 L541.7,365.80 L541.2,365.80 L540.7,365.80 L540.2,365.80 L539.7,365.80 L539.2,365.80 L538.7,365.80 L538.2,365.79 L537.7,365.79 L537.2,365.78 L536.7,365.77 L536.2,365.75 L535.7,365.73 L535.2,365.70 L534.7,365.66 L534.2,365.62 L533.7,365.56 L533.2,365.44 L532.7,365.27 L532.2,365.10Z" fill="#161616" opacity="1.0" stroke="#161616" stroke-width="0.3" stroke-linejoin="round"/>
</g>
</g>
<rect x="384.6" y="357.9" width="222.29999999999995" height="24.5" fill="none" stroke="#161616" stroke-width="1.3"/>
<clipPath id="cp8"><rect x="384.6" y="391.4" width="222.29999999999995" height="25.0"/></clipPath>
<rect x="384.6" y="391.4" width="222.29999999999995" height="25.0" fill="#c1c1c1"/>
<g clip-path="url(#cp8)">
<g filter="url(#b1)">
<path d="M561.0,397.00 L561.5,396.92 L562.0,396.81 L562.5,396.75 L563.0,396.72 L563.5,396.70 L564.0,396.68 L564.5,396.67 L565.0,396.66 L565.5,396.65 L566.0,396.65 L566.5,396.65 L567.0,396.65 L567.5,396.65 L568.0,396.65 L568.5,396.65 L569.0,396.66 L569.5,396.67 L570.0,396.68 L570.5,396.70 L571.0,396.72 L571.5,396.75 L572.0,396.81 L572.5,396.92 L573.0,397.00 L573.0,397.20 L572.5,397.28 L572.0,397.39 L571.5,397.45 L571.0,397.48 L570.5,397.50 L570.0,397.52 L569.5,397.53 L569.0,397.54 L568.5,397.55 L568.0,397.55 L567.5,397.55 L567.0,397.55 L566.5,397.55 L566.0,397.55 L565.5,397.55 L565.0,397.54 L564.5,397.53 L564.0,397.52 L563.5,397.50 L563.0,397.48 L562.5,397.45 L562.0,397.39 L561.5,397.28 L561.0,397.20Z" fill="#8e8e8e" opacity="1.0" stroke="#8e8e8e" stroke-width="0.3" stroke-linejoin="round"/>
<path d="M582.5,396.30 L583.0,396.21 L583.5,396.09 L584.0,396.04 L584.5,396.01 L585.0,395.99 L585.5,395.97 L586.0,395.96 L586.5,395.95 L587.0,395.95 L587.5,395.95 L588.0,395.95 L588.5,395.95 L589.0,395.95 L589.5,395.95 L590.0,395.96 L590.5,395.97 L591.0,395.99 L591.5,396.01 L592.0,396.04 L592.5,396.09 L593.0,396.21 L593.5,396.30 L593.5,396.50 L593.0,396.59 L592.5,396.71 L592.0,396.76 L591.5,396.79 L591.0,396.81 L590.5,396.83 L590.0,396.84 L589.5,396.85 L589.0,396.85 L588.5,396.85 L588.0,396.85 L587.5,396.85 L587.0,396.85 L586.5,396.85 L586.0,396.84 L585.5,396.83 L585.0,396.81 L584.5,396.79 L584.0,396.76 L583.5,396.71 L583.0,396.59 L582.5,396.50Z" fill="#909090" opacity="1.0" stroke="#909090" stroke-width="0.3" stroke-linejoin="round"/>
</g>
<g filter="url(#b0)">
<path d="M394.0,402.39 L394.5,401.95 L395.0,401.51 L395.5,401.19 L396.0,401.07 L396.5,401.08 L397.0,401.13 L397.5,401.14 L398.0,401.18 L398.5,401.21 L399.0,401.24 L399.5,401.27 L400.0,401.30 L400.5,401.33 L401.0,401.35 L401.5,401.37 L402.0,401.39 L402.5,401.40 L403.0,401.41 L403.5,401.42 L404.0,401.42 L404.5,401.43 L405.0,401.43 L405.5,401.42 L406.0,401.41 L406.5,401.40 L407.0,401.39 L407.5,401.38 L408.0,401.36 L408.5,401.34 L409.0,401.33 L409.5,401.33 L410.0,401.30 L410.5,401.32 L411.0,401.49 L411.5,401.86 L412.0,402.33 L412.0,403.57 L411.5,404.12 L411.0,404.58 L410.5,404.82 L410.0,404.91 L409.5,404.94 L409.0,404.99 L408.5,405.03 L408.0,405.05 L407.5,405.07 L407.0,405.09 L406.5,405.10 L406.0,405.11 L405.5,405.12 L405.0,405.13 L404.5,405.13 L404.0,405.12 L403.5,405.12 L403.0,405.11 L402.5,405.10 L402.0,405.09 L401.5,405.07 L401.0,405.05 L400.5,405.03 L400.0,405.00 L399.5,404.97 L399.0,404.94 L398.5,404.90 L398.0,404.86 L397.5,404.82 L397.0,404.75 L396.5,404.70 L396.0,404.61 L395.5,404.39 L395.0,403.96 L394.5,403.40 L394.0,402.84Z" fill="#080808" opacity="1.0" stroke="#080808" stroke-width="0.3" stroke-linejoin="round"/>
<path d="M416.6,402.52 L417.1,402.18 L417.6,401.83 L418.1,401.58 L418.6,401.49 L419.1,401.51 L419.6,401.56 L420.1,401.58 L420.6,401.62 L421.1,401.67 L421.6,401.70 L422.1,401.74 L422.6,401.78 L423.1,401.82 L423.6,401.86 L424.1,401.89 L424.6,401.92 L425.1,401.95 L425.6,401.98 L426.1,402.01 L426.6,402.03 L427.1,402.06 L427.6,402.08 L428.1,402.10 L428.6,402.12 L429.1,402.14 L429.6,402.15 L430.1,402.16 L430.6,402.18 L431.1,402.19 L431.6,402.20 L432.1,402.23 L432.6,402.24 L433.1,402.26 L433.6,402.37 L434.1,402.65 L434.6,403.04 L435.1,403.44 L435.1,403.95 L434.6,404.37 L434.1,404.76 L433.6,405.04 L433.1,405.15 L432.6,405.17 L432.1,405.17 L431.6,405.18 L431.1,405.18 L430.6,405.17 L430.1,405.16 L429.6,405.15 L429.1,405.14 L428.6,405.12 L428.1,405.10 L427.6,405.08 L427.1,405.06 L426.6,405.03 L426.1,405.01 L425.6,404.98 L425.1,404.95 L424.6,404.92 L424.1,404.89 L423.6,404.86 L423.1,404.82 L422.6,404.78 L422.1,404.74 L421.6,404.70 L421.1,404.66 L420.6,404.61 L420.1,404.56 L419.6,404.49 L419.1,404.44 L418.6,404.36 L418.1,404.16 L417.6,403.80 L417.1,403.34 L416.6,402.88Z" fill="#080808" opacity="1.0" stroke="#080808" stroke-width="0.3" stroke-linejoin="round"/>
<path d="M439.4,403.48 L439.9,403.03 L440.4,402.56 L440.9,402.20 L441.4,402.03 L441.9,402.02 L442.4,402.07 L442.9,402.10 L443.4,402.13 L443.9,402.18 L444.4,402.21 L444.9,402.25 L445.4,402.28 L445.9,402.31 L446.4,402.34 L446.9,402.37 L447.4,402.39 L447.9,402.40 L448.4,402.42 L448.9,402.43 L449.4,402.43 L449.9,402.43 L450.4,402.43 L450.9,402.43 L451.4,402.42 L451.9,402.41 L452.4,402.39 L452.9,402.37 L453.4,402.35 L453.9,402.33 L454.4,402.30 L454.9,402.27 L455.4,402.24 L455.9,402.23 L456.4,402.19 L456.9,402.16 L457.4,402.23 L457.9,402.50 L458.4,402.92 L458.9,403.41 L458.9,404.53 L458.4,405.13 L457.9,405.68 L457.4,406.06 L456.9,406.23 L456.4,406.29 L455.9,406.35 L455.4,406.41 L454.9,406.46 L454.4,406.49 L453.9,406.53 L453.4,406.55 L452.9,406.57 L452.4,406.59 L451.9,406.61 L451.4,406.62 L450.9,406.63 L450.4,406.63 L449.9,406.63 L449.4,406.63 L448.9,406.63 L448.4,406.62 L447.9,406.60 L447.4,406.59 L446.9,406.57 L446.4,406.54 L445.9,406.51 L445.4,406.48 L444.9,406.45 L444.4,406.41 L443.9,406.36 L443.4,406.31 L442.9,406.25 L442.4,406.17 L441.9,406.11 L441.4,405.98 L440.9,405.69 L440.4,405.19 L439.9,404.58 L439.4,403.98Z" fill="#080808" opacity="1.0" stroke="#080808" stroke-width="0.3" stroke-linejoin="round"/>
<path d="M463.8,403.96 L464.3,403.58 L464.8,403.18 L465.3,402.87 L465.8,402.71 L466.3,402.68 L466.8,402.70 L467.3,402.71 L467.8,402.71 L468.3,402.73 L468.8,402.74 L469.3,402.75 L469.8,402.76 L470.3,402.77 L470.8,402.78 L471.3,402.78 L471.8,402.78 L472.3,402.78 L472.8,402.78 L473.3,402.77 L473.8,402.77 L474.3,402.75 L474.8,402.74 L475.3,402.72 L475.8,402.70 L476.3,402.68 L476.8,402.66 L477.3,402.63 L477.8,402.60 L478.3,402.57 L478.8,402.54 L479.3,402.51 L479.8,402.47 L480.3,402.45 L480.8,402.42 L481.3,402.38 L481.8,402.39 L482.3,402.53 L482.8,402.82 L483.3,403.20 L483.8,403.56 L483.8,403.97 L483.3,404.45 L482.8,404.93 L482.3,405.34 L481.8,405.58 L481.3,405.69 L480.8,405.74 L480.3,405.80 L479.8,405.86 L479.3,405.90 L478.8,405.94 L478.3,405.97 L477.8,406.01 L477.3,406.03 L476.8,406.06 L476.3,406.08 L475.8,406.11 L475.3,406.12 L474.8,406.14 L474.3,406.15 L473.8,406.17 L473.3,406.17 L472.8,406.18 L472.3,406.18 L471.8,406.19 L471.3,406.18 L470.8,406.18 L470.3,406.17 L469.8,406.17 L469.3,406.15 L468.8,406.14 L468.3,406.12 L467.8,406.10 L467.3,406.06 L466.8,406.02 L466.3,405.99 L465.8,405.90 L465.3,405.68 L464.8,405.29 L464.3,404.83 L463.8,404.37Z" fill="#080808" opacity="1.0" stroke="#080808" stroke-width="0.3" stroke-linejoin="round"/>
<path d="M488.0,403.57 L488.5,403.13 L489.0,402.69 L489.5,402.35 L490.0,402.21 L490.5,402.22 L491.0,402.26 L491.5,402.28 L492.0,402.30 L492.5,402.34 L493.0,402.36 L493.5,402.39 L494.0,402.42 L494.5,402.44 L495.0,402.46 L495.5,402.47 L496.0,402.48 L496.5,402.49 L497.0,402.50 L497.5,402.50 L498.0,402.50 L498.5,402.49 L499.0,402.48 L499.5,402.47 L500.0,402.46 L500.5,402.44 L501.0,402.42 L501.5,402.39 L502.0,402.36 L502.5,402.34 L503.0,402.30 L503.5,402.28 L504.0,402.26 L504.5,402.22 L505.0,402.21 L505.5,402.35 L506.0,402.69 L506.5,403.13 L507.0,403.57 L507.0,404.03 L506.5,404.58 L506.0,405.14 L505.5,405.59 L505.0,405.83 L504.5,405.93 L504.0,405.97 L503.5,406.04 L503.0,406.09 L502.5,406.13 L502.0,406.16 L501.5,406.19 L501.0,406.22 L500.5,406.24 L500.0,406.26 L499.5,406.27 L499.0,406.28 L498.5,406.29 L498.0,406.30 L497.5,406.30 L497.0,406.30 L496.5,406.29 L496.0,406.28 L495.5,406.27 L495.0,406.26 L494.5,406.24 L494.0,406.22 L493.5,406.19 L493.0,406.16 L492.5,406.13 L492.0,406.09 L491.5,406.04 L491.0,405.97 L490.5,405.93 L490.0,405.83 L489.5,405.59 L489.0,405.14 L488.5,404.58 L488.0,404.03Z" fill="#080808" opacity="1.0" stroke="#080808" stroke-width="0.3" stroke-linejoin="round"/>
<path d="M511.8,403.57 L512.3,403.09 L512.8,402.61 L513.3,402.29 L513.8,402.20 L514.3,402.24 L514.8,402.27 L515.3,402.30 L515.8,402.33 L516.3,402.36 L516.8,402.39 L517.3,402.42 L517.8,402.44 L518.3,402.46 L518.8,402.48 L519.3,402.49 L519.8,402.50 L520.3,402.50 L520.8,402.50 L521.3,402.49 L521.8,402.48 L522.3,402.47 L522.8,402.45 L523.3,402.43 L523.8,402.40 L524.3,402.38 L524.8,402.35 L525.3,402.31 L525.8,402.28 L526.3,402.26 L526.8,402.21 L527.3,402.23 L527.8,402.45 L528.3,402.88 L528.8,403.39 L528.8,404.26 L528.3,404.89 L527.8,405.45 L527.3,405.79 L526.8,405.92 L526.3,405.97 L525.8,406.04 L525.3,406.10 L524.8,406.14 L524.3,406.17 L523.8,406.20 L523.3,406.23 L522.8,406.25 L522.3,406.27 L521.8,406.28 L521.3,406.29 L520.8,406.30 L520.3,406.30 L519.8,406.30 L519.3,406.29 L518.8,406.28 L518.3,406.26 L517.8,406.24 L517.3,406.22 L516.8,406.19 L516.3,406.16 L515.8,406.12 L515.3,406.08 L514.8,406.02 L514.3,405.95 L513.8,405.88 L513.3,405.69 L512.8,405.25 L512.3,404.64 L511.8,404.03Z" fill="#080808" opacity="1.0" stroke="#080808" stroke-width="0.3" stroke-linejoin="round"/>
<path d="M534.4,403.58 L534.9,403.16 L535.4,402.74 L535.9,402.43 L536.4,402.31 L536.9,402.32 L537.4,402.36 L537.9,402.38 L538.4,402.41 L538.9,402.44 L539.4,402.47 L539.9,402.50 L540.4,402.52 L540.9,402.54 L541.4,402.56 L541.9,402.58 L542.4,402.59 L542.9,402.59 L543.4,402.60 L543.9,402.60 L544.4,402.59 L544.9,402.59 L545.4,402.58 L545.9,402.56 L546.4,402.55 L546.9,402.53 L547.4,402.50 L547.9,402.48 L548.4,402.45 L548.9,402.42 L549.4,402.39 L549.9,402.37 L550.4,402.33 L550.9,402.30 L551.4,402.39 L551.9,402.66 L552.4,403.07 L552.9,403.50 L552.9,404.12 L552.4,404.67 L551.9,405.20 L551.4,405.59 L550.9,405.77 L550.4,405.84 L549.9,405.90 L549.4,405.96 L548.9,406.00 L548.4,406.04 L547.9,406.08 L547.4,406.10 L546.9,406.13 L546.4,406.15 L545.9,406.16 L545.4,406.18 L544.9,406.19 L544.4,406.19 L543.9,406.20 L543.4,406.20 L542.9,406.19 L542.4,406.19 L541.9,406.18 L541.4,406.16 L540.9,406.14 L540.4,406.12 L539.9,406.10 L539.4,406.07 L538.9,406.03 L538.4,406.00 L537.9,405.95 L537.4,405.88 L536.9,405.83 L536.4,405.75 L535.9,405.53 L535.4,405.10 L534.9,404.55 L534.4,404.01Z" fill="#080808" opacity="1.0" stroke="#080808" stroke-width="0.3" stroke-linejoin="round"/>
<path d="M558.2,403.29 L558.7,402.77 L559.2,402.28 L559.7,402.01 L560.2,401.98 L560.7,402.00 L561.2,402.00 L561.7,402.02 L562.2,402.03 L562.7,402.05 L563.2,402.06 L563.7,402.08 L564.2,402.09 L564.7,402.09 L565.2,402.10 L565.7,402.10 L566.2,402.10 L566.7,402.09 L567.2,402.09 L567.7,402.08 L568.2,402.07 L568.7,402.06 L569.2,402.04 L569.7,402.02 L570.2,402.01 L570.7,402.00 L571.2,401.99 L571.7,401.98 L572.2,402.14 L572.7,402.56 L573.2,403.10 L573.2,403.93 L572.7,404.54 L572.2,405.03 L571.7,405.26 L571.2,405.31 L570.7,405.35 L570.2,405.39 L569.7,405.42 L569.2,405.44 L568.7,405.46 L568.2,405.47 L567.7,405.48 L567.2,405.49 L566.7,405.49 L566.2,405.50 L565.7,405.50 L565.2,405.50 L564.7,405.49 L564.2,405.49 L563.7,405.48 L563.2,405.46 L562.7,405.45 L562.2,405.43 L561.7,405.41 L561.2,405.38 L560.7,405.33 L560.2,405.30 L559.7,405.20 L559.2,404.86 L558.7,404.30 L558.2,403.70Z" fill="#080808" opacity="1.0" stroke="#080808" stroke-width="0.3" stroke-linejoin="round"/>
<path d="M578.6,402.95 L579.1,402.45 L579.6,401.96 L580.1,401.63 L580.6,401.53 L581.1,401.54 L581.6,401.54 L582.1,401.55 L582.6,401.56 L583.1,401.58 L583.6,401.59 L584.1,401.61 L584.6,401.62 L585.1,401.63 L585.6,401.64 L586.1,401.65 L586.6,401.66 L587.1,401.67 L587.6,401.67 L588.1,401.67 L588.6,401.68 L589.1,401.68 L589.6,401.68 L590.1,401.68 L590.6,401.67 L591.1,401.67 L591.6,401.67 L592.1,401.66 L592.6,401.67 L593.1,401.68 L593.6,401.68 L594.1,401.79 L594.6,402.14 L595.1,402.64 L595.6,403.15 L595.6,403.58 L595.1,404.13 L594.6,404.66 L594.1,405.03 L593.6,405.17 L593.1,405.19 L592.6,405.22 L592.1,405.25 L591.6,405.26 L591.1,405.27 L590.6,405.27 L590.1,405.28 L589.6,405.28 L589.1,405.28 L588.6,405.28 L588.1,405.28 L587.6,405.27 L587.1,405.27 L586.6,405.26 L586.1,405.25 L585.6,405.24 L585.1,405.23 L584.6,405.22 L584.1,405.21 L583.6,405.19 L583.1,405.17 L582.6,405.15 L582.1,405.13 L581.6,405.09 L581.1,405.05 L580.6,405.02 L580.1,404.87 L579.6,404.48 L579.1,403.94 L578.6,403.38Z" fill="#080808" opacity="1.0" stroke="#080808" stroke-width="0.3" stroke-linejoin="round"/>
</g>
</g>
<rect x="384.6" y="391.4" width="222.29999999999995" height="25.0" fill="none" stroke="#161616" stroke-width="1.3"/>
<text x="610.40" y="307.90" font-size="11.25" text-anchor="start" fill="#231815">p-HSL(S660)</text>
<text x="609.40" y="341.50" font-size="11.25" text-anchor="start" fill="#231815">HSL</text>
<text x="609.40" y="374.50" font-size="11.25" text-anchor="start" fill="#231815">PRMT4</text>
<text x="610.30" y="408.70" font-size="11.25" text-anchor="start" fill="#231815">Tubulin</text>
<line x1="396.00" y1="423.00" x2="456.70" y2="423.00" stroke="#1c1c1c" stroke-width="1.6" stroke-linecap="butt"/>
<line x1="464.70" y1="423.00" x2="522.90" y2="423.00" stroke="#1c1c1c" stroke-width="1.6" stroke-linecap="butt"/>
<line x1="537.20" y1="423.00" x2="596.00" y2="423.00" stroke="#1c1c1c" stroke-width="1.6" stroke-linecap="butt"/>
<text x="425.10" y="438.80" font-size="11.2" text-anchor="middle" fill="#231815">Ctrl Fed</text>
<text x="491.00" y="438.80" font-size="11.2" text-anchor="middle" fill="#231815">Ctrl Fasted</text>
<text x="564.30" y="438.80" font-size="11.2" text-anchor="middle" fill="#231815">PRMT4 Fasted</text>
<text x="13.5" y="524.2" font-size="12.3" fill="#151515" stroke="#151515" stroke-width="0.18" xml:space="preserve" textLength="395.5" lengthAdjust="spacingAndGlyphs"><tspan font-weight="bold">Figure 3 </tspan>PRMT4 overexpression induces the lipolysis pathway in mice.</text>
<text x="13.5" y="541.6" font-size="12.3" fill="#151515" stroke="#151515" stroke-width="0.18" xml:space="preserve" textLength="700.9" lengthAdjust="spacingAndGlyphs"><tspan font-weight="bold">Notes: </tspan>(<tspan font-weight="bold">A</tspan>) qPCR analysis of the mRNA levels of ATGL, HSL, and MAGL in epididymal white adipose tissue (eWAT) of mice </text>
<text x="714.4" y="541.6" font-size="12.3" fill="#151515" stroke="#151515" stroke-width="0.18" xml:space="preserve" textLength="111.9" lengthAdjust="spacingAndGlyphs">with streptozotocin </text>
<text x="826.3" y="541.6" font-size="12.3" fill="#151515" stroke="#151515" stroke-width="0.18" xml:space="preserve" textLength="126.5" lengthAdjust="spacingAndGlyphs">(STZ)-induced diabetes</text>
<text x="13.5" y="559.0" font-size="12.3" fill="#151515" stroke="#151515" stroke-width="0.18" xml:space="preserve" textLength="835.0" lengthAdjust="spacingAndGlyphs">(Ctrl-STZ and PRMT4-STZ mice). (<tspan font-weight="bold">B</tspan> and <tspan font-weight="bold">C</tspan>) Western blot analysis of HSL phosphorylation at Ser660 in tissues of diabetic mice and vehicle-injected mice </text>
<text x="848.5" y="559.0" font-size="12.3" fill="#151515" stroke="#151515" stroke-width="0.18" xml:space="preserve" textLength="104.3" lengthAdjust="spacingAndGlyphs">(Ctrl-vehicle mice).</text>
<text x="13.5" y="576.3" font-size="12.3" fill="#151515" stroke="#151515" stroke-width="0.18" xml:space="preserve" textLength="812.8" lengthAdjust="spacingAndGlyphs">(<tspan font-weight="bold">D</tspan>) qPCR analysis of the mRNA levels of ATGL, HSL, and MAGL in adipose tissue of mice after 16 h of fasting (Ctrl-Fasted and PRMT4-Fasted mice). </text>
<text x="826.3" y="576.3" font-size="12.3" fill="#151515" stroke="#151515" stroke-width="0.18" xml:space="preserve" textLength="54.4" lengthAdjust="spacingAndGlyphs">(<tspan font-weight="bold">E</tspan> and <tspan font-weight="bold">F</tspan>) </text>
<text x="880.7" y="576.3" font-size="12.3" fill="#151515" stroke="#151515" stroke-width="0.18" xml:space="preserve" textLength="72.1" lengthAdjust="spacingAndGlyphs">Western blot</text>
<text x="13.5" y="593.6" font-size="12.3" fill="#151515" stroke="#151515" stroke-width="0.18" xml:space="preserve" textLength="794.8" lengthAdjust="spacingAndGlyphs">results of HSL phosphorylation at Ser660 in adipose tissue of fasted mice and fed mice (Ctrl-Fed mice). *<tspan font-style="italic">P</tspan> &lt; 0.05 indicates a significant difference </text>
<text x="808.3" y="593.6" font-size="12.3" fill="#151515" stroke="#151515" stroke-width="0.18" xml:space="preserve" textLength="144.5" lengthAdjust="spacingAndGlyphs">between the Ctrl-STZ and</text>
<text x="13.5" y="611.0" font-size="12.3" fill="#151515" stroke="#151515" stroke-width="0.18" xml:space="preserve" textLength="330.6" lengthAdjust="spacingAndGlyphs">Ctrl-vehicle groups or the Ctrl-Fasted and Ctrl-Fed groups. </text>
<text x="344.1" y="611.0" font-size="12.3" fill="#151515" stroke="#151515" stroke-width="0.18" xml:space="preserve" textLength="529.1" lengthAdjust="spacingAndGlyphs"><tspan font-size="8" dy="-4">#</tspan><tspan dy="4" font-size="1">&#8203;</tspan><tspan font-style="italic">P</tspan> &lt; 0.05 indicates a significant difference between the PRMT4-STZ and Ctrl-STZ groups or the </text>
<text x="873.2" y="611.0" font-size="12.3" fill="#151515" stroke="#151515" stroke-width="0.18" xml:space="preserve" textLength="79.6" lengthAdjust="spacingAndGlyphs">PRMT4-Fasted</text>
<text x="13.5" y="628.2" font-size="12.3" fill="#151515" stroke="#151515" stroke-width="0.18" xml:space="preserve" textLength="163.5" lengthAdjust="spacingAndGlyphs">group and Ctrl-Fasted groups.</text>
</svg>
</body></html>
